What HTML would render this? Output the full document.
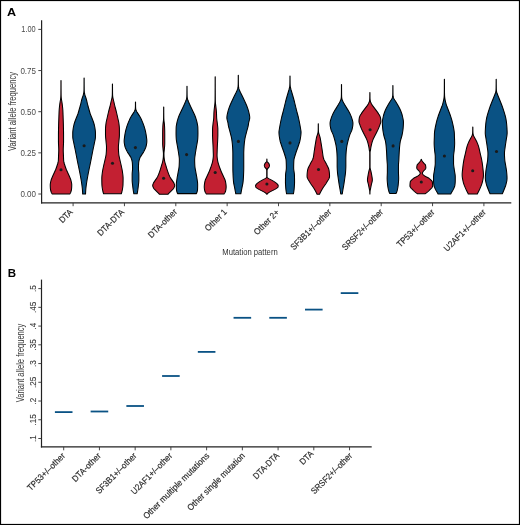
<!DOCTYPE html><html><head><meta charset="utf-8"><style>html,body{margin:0;padding:0;background:#fff;}svg{display:block;will-change:transform;}text{font-family:"Liberation Sans",sans-serif;}</style></head><body>
<svg width="520" height="525" viewBox="0 0 520 525">
<rect x="0" y="0" width="520" height="525" fill="#fff"/>
<rect x="0.5" y="0.5" width="519" height="524" fill="none" stroke="#000" stroke-width="1.2"/>
<text x="7.1" y="15.6" font-size="11.5" font-weight="bold" fill="#000" textLength="9.1" lengthAdjust="spacingAndGlyphs">A</text>
<line x1="41.6" y1="20.2" x2="41.6" y2="203.5" stroke="#222" stroke-width="1.2"/>
<line x1="41.0" y1="202.9" x2="511.3" y2="202.9" stroke="#222" stroke-width="1.2"/>
<line x1="38.300000000000004" y1="194.00" x2="41.6" y2="194.00" stroke="#333" stroke-width="0.9"/>
<text x="36.0" y="197.00" font-size="8.6" fill="#4a4a4a" text-anchor="end" textLength="15.6" lengthAdjust="spacingAndGlyphs">0.00</text>
<line x1="38.300000000000004" y1="152.85" x2="41.6" y2="152.85" stroke="#333" stroke-width="0.9"/>
<text x="36.0" y="155.85" font-size="8.6" fill="#4a4a4a" text-anchor="end" textLength="15.6" lengthAdjust="spacingAndGlyphs">0.25</text>
<line x1="38.300000000000004" y1="111.70" x2="41.6" y2="111.70" stroke="#333" stroke-width="0.9"/>
<text x="36.0" y="114.70" font-size="8.6" fill="#4a4a4a" text-anchor="end" textLength="15.6" lengthAdjust="spacingAndGlyphs">0.50</text>
<line x1="38.300000000000004" y1="70.55" x2="41.6" y2="70.55" stroke="#333" stroke-width="0.9"/>
<text x="36.0" y="73.55" font-size="8.6" fill="#4a4a4a" text-anchor="end" textLength="15.6" lengthAdjust="spacingAndGlyphs">0.75</text>
<line x1="38.300000000000004" y1="29.40" x2="41.6" y2="29.40" stroke="#333" stroke-width="0.9"/>
<text x="35.7" y="32.40" font-size="8.6" fill="#4a4a4a" text-anchor="end" textLength="14.4" lengthAdjust="spacingAndGlyphs">1.00</text>
<line x1="73.10" y1="202.9" x2="73.10" y2="206.20000000000002" stroke="#333" stroke-width="0.9"/>
<text transform="translate(73.40,212.60) rotate(-45)" font-size="8.8" fill="#2b2b2b" stroke="#2b2b2b" stroke-width="0.18" text-anchor="end" textLength="15.59" lengthAdjust="spacingAndGlyphs">DTA</text>
<line x1="124.45" y1="202.9" x2="124.45" y2="206.20000000000002" stroke="#333" stroke-width="0.9"/>
<text transform="translate(124.75,212.60) rotate(-45)" font-size="8.8" fill="#2b2b2b" stroke="#2b2b2b" stroke-width="0.18" text-anchor="end" textLength="33.88" lengthAdjust="spacingAndGlyphs">DTA-DTA</text>
<line x1="175.80" y1="202.9" x2="175.80" y2="206.20000000000002" stroke="#333" stroke-width="0.9"/>
<text transform="translate(177.55,212.45) rotate(-45)" font-size="8.8" fill="#2b2b2b" stroke="#2b2b2b" stroke-width="0.18" text-anchor="end" textLength="36.74" lengthAdjust="spacingAndGlyphs">DTA-other</text>
<line x1="227.15" y1="202.9" x2="227.15" y2="206.20000000000002" stroke="#333" stroke-width="0.9"/>
<text transform="translate(227.45,212.60) rotate(-45)" font-size="8.8" fill="#2b2b2b" stroke="#2b2b2b" stroke-width="0.18" text-anchor="end" textLength="27.00" lengthAdjust="spacingAndGlyphs">Other 1</text>
<line x1="278.50" y1="202.9" x2="278.50" y2="206.20000000000002" stroke="#333" stroke-width="0.9"/>
<text transform="translate(279.80,213.00) rotate(-45)" font-size="8.8" fill="#2b2b2b" stroke="#2b2b2b" stroke-width="0.18" text-anchor="end" textLength="31.73" lengthAdjust="spacingAndGlyphs">Other 2+</text>
<line x1="329.85" y1="202.9" x2="329.85" y2="206.20000000000002" stroke="#333" stroke-width="0.9"/>
<text transform="translate(331.85,212.60) rotate(-45)" font-size="8.8" fill="#2b2b2b" stroke="#2b2b2b" stroke-width="0.18" text-anchor="end" textLength="53.68" lengthAdjust="spacingAndGlyphs">SF3B1+/–other</text>
<line x1="381.20" y1="202.9" x2="381.20" y2="206.20000000000002" stroke="#333" stroke-width="0.9"/>
<text transform="translate(383.70,212.60) rotate(-45)" font-size="8.8" fill="#2b2b2b" stroke="#2b2b2b" stroke-width="0.18" text-anchor="end" textLength="54.03" lengthAdjust="spacingAndGlyphs">SRSF2+/–other</text>
<line x1="432.55" y1="202.9" x2="432.55" y2="206.20000000000002" stroke="#333" stroke-width="0.9"/>
<text transform="translate(435.05,212.90) rotate(-45)" font-size="8.8" fill="#2b2b2b" stroke="#2b2b2b" stroke-width="0.18" text-anchor="end" textLength="49.28" lengthAdjust="spacingAndGlyphs">TP53+/–other</text>
<line x1="483.90" y1="202.9" x2="483.90" y2="206.20000000000002" stroke="#333" stroke-width="0.9"/>
<text transform="translate(486.30,212.90) rotate(-45)" font-size="8.8" fill="#2b2b2b" stroke="#2b2b2b" stroke-width="0.18" text-anchor="end" textLength="55.13" lengthAdjust="spacingAndGlyphs">U2AF1+/–other</text>
<text x="222.3" y="255.2" font-size="8.8" fill="#333" textLength="55.4" lengthAdjust="spacingAndGlyphs">Mutation pattern</text>
<text transform="translate(15.9,111.4) rotate(-90)" font-size="10" fill="#3a3a3a" text-anchor="middle" textLength="79" lengthAdjust="spacingAndGlyphs">Variant allele frequency</text>
<path d="M61.05,80.50 L61.05,81.00 L61.05,81.50 L61.05,82.00 L61.05,82.50 L61.05,83.00 L61.05,83.50 L61.05,84.00 L61.05,84.50 L61.05,85.00 L61.06,85.50 L61.06,86.00 L61.06,86.50 L61.06,87.00 L61.06,87.50 L61.06,88.00 L61.07,88.50 L61.07,89.00 L61.07,89.50 L61.07,90.00 L61.08,90.50 L61.08,91.00 L61.09,91.50 L61.09,92.00 L61.09,92.50 L61.10,93.00 L61.10,93.50 L61.11,94.00 L61.11,94.50 L61.12,95.00 L61.13,95.50 L61.15,96.00 L61.17,96.50 L61.19,97.00 L61.23,97.50 L61.28,98.00 L61.34,98.50 L61.40,99.00 L61.48,99.50 L61.57,100.00 L61.65,100.50 L61.74,101.00 L61.83,101.50 L61.91,102.00 L61.99,102.50 L62.07,103.00 L62.14,103.50 L62.21,104.00 L62.27,104.50 L62.33,105.00 L62.39,105.50 L62.45,106.00 L62.50,106.50 L62.55,107.00 L62.61,107.50 L62.66,108.00 L62.71,108.50 L62.75,109.00 L62.79,109.50 L62.83,110.00 L62.86,110.50 L62.89,111.00 L62.91,111.50 L62.93,112.00 L62.96,112.50 L62.98,113.00 L63.00,113.50 L63.01,114.00 L63.03,114.50 L63.05,115.00 L63.07,115.50 L63.08,116.00 L63.10,116.50 L63.12,117.00 L63.13,117.50 L63.15,118.00 L63.17,118.50 L63.19,119.00 L63.21,119.50 L63.22,120.00 L63.24,120.50 L63.26,121.00 L63.28,121.50 L63.30,122.00 L63.31,122.50 L63.33,123.00 L63.35,123.50 L63.36,124.00 L63.38,124.50 L63.39,125.00 L63.40,125.50 L63.41,126.00 L63.42,126.50 L63.43,127.00 L63.44,127.50 L63.46,128.00 L63.47,128.50 L63.48,129.00 L63.49,129.50 L63.50,130.00 L63.50,130.50 L63.51,131.00 L63.52,131.50 L63.53,132.00 L63.53,132.50 L63.54,133.00 L63.54,133.50 L63.55,134.00 L63.55,134.50 L63.55,135.00 L63.55,135.50 L63.55,136.00 L63.55,136.50 L63.55,137.00 L63.55,137.50 L63.55,138.00 L63.55,138.50 L63.55,139.00 L63.55,139.50 L63.55,140.00 L63.55,140.50 L63.55,141.00 L63.55,141.50 L63.54,142.00 L63.54,142.50 L63.52,143.00 L63.51,143.50 L63.49,144.00 L63.46,144.50 L63.44,145.00 L63.42,145.50 L63.39,146.00 L63.37,146.50 L63.34,147.00 L63.32,147.50 L63.30,148.00 L63.28,148.50 L63.27,149.00 L63.26,149.50 L63.25,150.00 L63.25,150.50 L63.26,151.00 L63.27,151.50 L63.29,152.00 L63.31,152.50 L63.33,153.00 L63.36,153.50 L63.38,154.00 L63.41,154.50 L63.43,155.00 L63.45,155.50 L63.47,156.00 L63.48,156.50 L63.50,157.00 L63.51,157.50 L63.53,158.00 L63.55,158.50 L63.57,159.00 L63.59,159.50 L63.61,160.00 L63.65,160.50 L63.69,161.00 L63.76,161.50 L63.85,162.00 L63.96,162.50 L64.10,163.00 L64.24,163.50 L64.40,164.00 L64.56,164.50 L64.73,165.00 L64.89,165.50 L65.05,166.00 L65.21,166.50 L65.38,167.00 L65.55,167.50 L65.73,168.00 L65.92,168.50 L66.12,169.00 L66.31,169.50 L66.52,170.00 L66.74,170.50 L66.97,171.00 L67.19,171.50 L67.42,172.00 L67.64,172.50 L67.87,173.00 L68.10,173.50 L68.33,174.00 L68.56,174.50 L68.79,175.00 L69.02,175.50 L69.24,176.00 L69.45,176.50 L69.66,177.00 L69.87,177.50 L70.09,178.00 L70.30,178.50 L70.50,179.00 L70.68,179.50 L70.85,180.00 L70.99,180.50 L71.11,181.00 L71.23,181.50 L71.35,182.00 L71.45,182.50 L71.55,183.00 L71.63,183.50 L71.69,184.00 L71.73,184.50 L71.74,185.00 L71.74,185.50 L71.73,186.00 L71.71,186.50 L71.69,187.00 L71.66,187.50 L71.63,188.00 L71.59,188.50 L71.55,189.00 L71.49,189.50 L71.40,190.00 L71.29,190.50 L71.14,191.00 L70.98,191.50 L70.81,192.00 L70.63,192.50 L70.37,193.00 L70.08,193.50 L69.75,194.00 L52.25,194.00 L51.92,193.50 L51.63,193.00 L51.37,192.50 L51.19,192.00 L51.02,191.50 L50.86,191.00 L50.71,190.50 L50.60,190.00 L50.51,189.50 L50.45,189.00 L50.41,188.50 L50.37,188.00 L50.34,187.50 L50.31,187.00 L50.29,186.50 L50.27,186.00 L50.26,185.50 L50.26,185.00 L50.27,184.50 L50.31,184.00 L50.37,183.50 L50.45,183.00 L50.55,182.50 L50.65,182.00 L50.77,181.50 L50.89,181.00 L51.01,180.50 L51.15,180.00 L51.32,179.50 L51.50,179.00 L51.70,178.50 L51.91,178.00 L52.13,177.50 L52.34,177.00 L52.55,176.50 L52.76,176.00 L52.98,175.50 L53.21,175.00 L53.44,174.50 L53.67,174.00 L53.90,173.50 L54.13,173.00 L54.36,172.50 L54.58,172.00 L54.81,171.50 L55.03,171.00 L55.26,170.50 L55.48,170.00 L55.69,169.50 L55.88,169.00 L56.08,168.50 L56.27,168.00 L56.45,167.50 L56.62,167.00 L56.79,166.50 L56.95,166.00 L57.11,165.50 L57.27,165.00 L57.44,164.50 L57.60,164.00 L57.76,163.50 L57.90,163.00 L58.04,162.50 L58.15,162.00 L58.24,161.50 L58.31,161.00 L58.35,160.50 L58.39,160.00 L58.41,159.50 L58.43,159.00 L58.45,158.50 L58.47,158.00 L58.49,157.50 L58.50,157.00 L58.52,156.50 L58.53,156.00 L58.55,155.50 L58.57,155.00 L58.59,154.50 L58.62,154.00 L58.64,153.50 L58.67,153.00 L58.69,152.50 L58.71,152.00 L58.73,151.50 L58.74,151.00 L58.75,150.50 L58.75,150.00 L58.74,149.50 L58.73,149.00 L58.72,148.50 L58.70,148.00 L58.68,147.50 L58.66,147.00 L58.63,146.50 L58.61,146.00 L58.58,145.50 L58.56,145.00 L58.54,144.50 L58.51,144.00 L58.49,143.50 L58.48,143.00 L58.46,142.50 L58.46,142.00 L58.45,141.50 L58.45,141.00 L58.45,140.50 L58.45,140.00 L58.45,139.50 L58.45,139.00 L58.45,138.50 L58.45,138.00 L58.45,137.50 L58.45,137.00 L58.45,136.50 L58.45,136.00 L58.45,135.50 L58.45,135.00 L58.45,134.50 L58.45,134.00 L58.46,133.50 L58.46,133.00 L58.47,132.50 L58.47,132.00 L58.48,131.50 L58.49,131.00 L58.50,130.50 L58.50,130.00 L58.51,129.50 L58.52,129.00 L58.53,128.50 L58.54,128.00 L58.56,127.50 L58.57,127.00 L58.58,126.50 L58.59,126.00 L58.60,125.50 L58.61,125.00 L58.62,124.50 L58.64,124.00 L58.65,123.50 L58.67,123.00 L58.69,122.50 L58.70,122.00 L58.72,121.50 L58.74,121.00 L58.76,120.50 L58.78,120.00 L58.79,119.50 L58.81,119.00 L58.83,118.50 L58.85,118.00 L58.87,117.50 L58.88,117.00 L58.90,116.50 L58.92,116.00 L58.93,115.50 L58.95,115.00 L58.97,114.50 L58.99,114.00 L59.00,113.50 L59.02,113.00 L59.04,112.50 L59.07,112.00 L59.09,111.50 L59.11,111.00 L59.14,110.50 L59.17,110.00 L59.21,109.50 L59.25,109.00 L59.29,108.50 L59.34,108.00 L59.39,107.50 L59.45,107.00 L59.50,106.50 L59.55,106.00 L59.61,105.50 L59.67,105.00 L59.73,104.50 L59.79,104.00 L59.86,103.50 L59.93,103.00 L60.01,102.50 L60.09,102.00 L60.17,101.50 L60.26,101.00 L60.35,100.50 L60.43,100.00 L60.52,99.50 L60.60,99.00 L60.66,98.50 L60.72,98.00 L60.77,97.50 L60.81,97.00 L60.83,96.50 L60.85,96.00 L60.87,95.50 L60.88,95.00 L60.89,94.50 L60.89,94.00 L60.90,93.50 L60.90,93.00 L60.91,92.50 L60.91,92.00 L60.91,91.50 L60.92,91.00 L60.92,90.50 L60.93,90.00 L60.93,89.50 L60.93,89.00 L60.93,88.50 L60.94,88.00 L60.94,87.50 L60.94,87.00 L60.94,86.50 L60.94,86.00 L60.94,85.50 L60.95,85.00 L60.95,84.50 L60.95,84.00 L60.95,83.50 L60.95,83.00 L60.95,82.50 L60.95,82.00 L60.95,81.50 L60.95,81.00 L60.95,80.50Z" fill="#C32032" stroke="#000" stroke-width="1.05" stroke-linejoin="round"/>
<path d="M84.15,78.00 L84.15,78.50 L84.15,79.00 L84.15,79.50 L84.15,80.00 L84.15,80.50 L84.15,81.00 L84.15,81.50 L84.16,82.00 L84.16,82.50 L84.16,83.00 L84.16,83.50 L84.16,84.00 L84.17,84.50 L84.17,85.00 L84.17,85.50 L84.17,86.00 L84.18,86.50 L84.18,87.00 L84.19,87.50 L84.19,88.00 L84.20,88.50 L84.20,89.00 L84.21,89.50 L84.22,90.00 L84.23,90.50 L84.26,91.00 L84.28,91.50 L84.33,92.00 L84.39,92.50 L84.46,93.00 L84.56,93.50 L84.67,94.00 L84.80,94.50 L84.95,95.00 L85.10,95.50 L85.27,96.00 L85.43,96.50 L85.60,97.00 L85.77,97.50 L85.94,98.00 L86.10,98.50 L86.25,99.00 L86.40,99.50 L86.54,100.00 L86.67,100.50 L86.80,101.00 L86.92,101.50 L87.03,102.00 L87.14,102.50 L87.25,103.00 L87.36,103.50 L87.48,104.00 L87.60,104.50 L87.73,105.00 L87.87,105.50 L88.00,106.00 L88.14,106.50 L88.28,107.00 L88.42,107.50 L88.56,108.00 L88.71,108.50 L88.85,109.00 L88.99,109.50 L89.13,110.00 L89.27,110.50 L89.41,111.00 L89.55,111.50 L89.69,112.00 L89.84,112.50 L90.00,113.00 L90.16,113.50 L90.32,114.00 L90.50,114.50 L90.69,115.00 L90.89,115.50 L91.09,116.00 L91.30,116.50 L91.51,117.00 L91.71,117.50 L91.92,118.00 L92.11,118.50 L92.30,119.00 L92.50,119.50 L92.69,120.00 L92.88,120.50 L93.07,121.00 L93.26,121.50 L93.43,122.00 L93.60,122.50 L93.76,123.00 L93.90,123.50 L94.04,124.00 L94.18,124.50 L94.31,125.00 L94.43,125.50 L94.55,126.00 L94.66,126.50 L94.76,127.00 L94.85,127.50 L94.93,128.00 L95.01,128.50 L95.08,129.00 L95.15,129.50 L95.22,130.00 L95.28,130.50 L95.34,131.00 L95.38,131.50 L95.42,132.00 L95.44,132.50 L95.45,133.00 L95.45,133.50 L95.45,134.00 L95.45,134.50 L95.45,135.00 L95.45,135.50 L95.45,136.00 L95.45,136.50 L95.44,137.00 L95.41,137.50 L95.37,138.00 L95.31,138.50 L95.23,139.00 L95.15,139.50 L95.05,140.00 L94.95,140.50 L94.84,141.00 L94.73,141.50 L94.62,142.00 L94.51,142.50 L94.41,143.00 L94.31,143.50 L94.22,144.00 L94.12,144.50 L94.01,145.00 L93.91,145.50 L93.80,146.00 L93.70,146.50 L93.59,147.00 L93.48,147.50 L93.37,148.00 L93.26,148.50 L93.16,149.00 L93.05,149.50 L92.95,150.00 L92.85,150.50 L92.75,151.00 L92.65,151.50 L92.56,152.00 L92.46,152.50 L92.36,153.00 L92.27,153.50 L92.17,154.00 L92.07,154.50 L91.98,155.00 L91.88,155.50 L91.79,156.00 L91.69,156.50 L91.59,157.00 L91.49,157.50 L91.40,158.00 L91.30,158.50 L91.20,159.00 L91.10,159.50 L91.01,160.00 L90.91,160.50 L90.81,161.00 L90.71,161.50 L90.61,162.00 L90.51,162.50 L90.41,163.00 L90.31,163.50 L90.21,164.00 L90.10,164.50 L90.00,165.00 L89.89,165.50 L89.79,166.00 L89.68,166.50 L89.57,167.00 L89.47,167.50 L89.36,168.00 L89.26,168.50 L89.15,169.00 L89.05,169.50 L88.95,170.00 L88.85,170.50 L88.75,171.00 L88.65,171.50 L88.55,172.00 L88.45,172.50 L88.35,173.00 L88.25,173.50 L88.16,174.00 L88.06,174.50 L87.96,175.00 L87.87,175.50 L87.78,176.00 L87.69,176.50 L87.60,177.00 L87.51,177.50 L87.42,178.00 L87.33,178.50 L87.24,179.00 L87.15,179.50 L87.07,180.00 L86.98,180.50 L86.90,181.00 L86.82,181.50 L86.74,182.00 L86.67,182.50 L86.59,183.00 L86.52,183.50 L86.45,184.00 L86.38,184.50 L86.31,185.00 L86.24,185.50 L86.18,186.00 L86.11,186.50 L86.05,187.00 L85.99,187.50 L85.93,188.00 L85.88,188.50 L85.83,189.00 L85.79,189.50 L85.75,190.00 L85.72,190.50 L85.69,191.00 L85.66,191.50 L85.63,192.00 L85.60,192.50 L85.58,193.00 L85.56,193.50 L85.55,194.00 L82.65,194.00 L82.64,193.50 L82.62,193.00 L82.60,192.50 L82.57,192.00 L82.54,191.50 L82.51,191.00 L82.48,190.50 L82.45,190.00 L82.41,189.50 L82.37,189.00 L82.32,188.50 L82.27,188.00 L82.21,187.50 L82.15,187.00 L82.09,186.50 L82.02,186.00 L81.96,185.50 L81.89,185.00 L81.82,184.50 L81.75,184.00 L81.68,183.50 L81.61,183.00 L81.53,182.50 L81.46,182.00 L81.38,181.50 L81.30,181.00 L81.22,180.50 L81.13,180.00 L81.05,179.50 L80.96,179.00 L80.87,178.50 L80.78,178.00 L80.69,177.50 L80.60,177.00 L80.51,176.50 L80.42,176.00 L80.33,175.50 L80.24,175.00 L80.14,174.50 L80.04,174.00 L79.95,173.50 L79.85,173.00 L79.75,172.50 L79.65,172.00 L79.55,171.50 L79.45,171.00 L79.35,170.50 L79.25,170.00 L79.15,169.50 L79.05,169.00 L78.94,168.50 L78.84,168.00 L78.73,167.50 L78.63,167.00 L78.52,166.50 L78.41,166.00 L78.31,165.50 L78.20,165.00 L78.10,164.50 L77.99,164.00 L77.89,163.50 L77.79,163.00 L77.69,162.50 L77.59,162.00 L77.49,161.50 L77.39,161.00 L77.29,160.50 L77.19,160.00 L77.10,159.50 L77.00,159.00 L76.90,158.50 L76.80,158.00 L76.71,157.50 L76.61,157.00 L76.51,156.50 L76.41,156.00 L76.32,155.50 L76.22,155.00 L76.13,154.50 L76.03,154.00 L75.93,153.50 L75.84,153.00 L75.74,152.50 L75.64,152.00 L75.55,151.50 L75.45,151.00 L75.35,150.50 L75.25,150.00 L75.15,149.50 L75.04,149.00 L74.94,148.50 L74.83,148.00 L74.72,147.50 L74.61,147.00 L74.50,146.50 L74.40,146.00 L74.29,145.50 L74.19,145.00 L74.08,144.50 L73.98,144.00 L73.89,143.50 L73.79,143.00 L73.69,142.50 L73.58,142.00 L73.47,141.50 L73.36,141.00 L73.25,140.50 L73.15,140.00 L73.05,139.50 L72.97,139.00 L72.89,138.50 L72.83,138.00 L72.79,137.50 L72.76,137.00 L72.75,136.50 L72.75,136.00 L72.75,135.50 L72.75,135.00 L72.75,134.50 L72.75,134.00 L72.75,133.50 L72.75,133.00 L72.76,132.50 L72.78,132.00 L72.82,131.50 L72.86,131.00 L72.92,130.50 L72.98,130.00 L73.05,129.50 L73.12,129.00 L73.19,128.50 L73.27,128.00 L73.35,127.50 L73.44,127.00 L73.54,126.50 L73.65,126.00 L73.77,125.50 L73.89,125.00 L74.02,124.50 L74.16,124.00 L74.30,123.50 L74.44,123.00 L74.60,122.50 L74.77,122.00 L74.94,121.50 L75.13,121.00 L75.32,120.50 L75.51,120.00 L75.70,119.50 L75.90,119.00 L76.09,118.50 L76.28,118.00 L76.49,117.50 L76.69,117.00 L76.90,116.50 L77.11,116.00 L77.31,115.50 L77.51,115.00 L77.70,114.50 L77.88,114.00 L78.04,113.50 L78.20,113.00 L78.36,112.50 L78.51,112.00 L78.65,111.50 L78.79,111.00 L78.93,110.50 L79.07,110.00 L79.21,109.50 L79.35,109.00 L79.49,108.50 L79.64,108.00 L79.78,107.50 L79.92,107.00 L80.06,106.50 L80.20,106.00 L80.33,105.50 L80.47,105.00 L80.60,104.50 L80.72,104.00 L80.84,103.50 L80.95,103.00 L81.06,102.50 L81.17,102.00 L81.28,101.50 L81.40,101.00 L81.53,100.50 L81.66,100.00 L81.80,99.50 L81.95,99.00 L82.10,98.50 L82.26,98.00 L82.43,97.50 L82.60,97.00 L82.77,96.50 L82.93,96.00 L83.10,95.50 L83.25,95.00 L83.40,94.50 L83.53,94.00 L83.64,93.50 L83.74,93.00 L83.81,92.50 L83.87,92.00 L83.92,91.50 L83.94,91.00 L83.97,90.50 L83.98,90.00 L83.99,89.50 L84.00,89.00 L84.00,88.50 L84.01,88.00 L84.01,87.50 L84.02,87.00 L84.02,86.50 L84.03,86.00 L84.03,85.50 L84.03,85.00 L84.03,84.50 L84.04,84.00 L84.04,83.50 L84.04,83.00 L84.04,82.50 L84.04,82.00 L84.05,81.50 L84.05,81.00 L84.05,80.50 L84.05,80.00 L84.05,79.50 L84.05,79.00 L84.05,78.50 L84.05,78.00Z" fill="#0A5284" stroke="#000" stroke-width="1.05" stroke-linejoin="round"/>
<path d="M112.50,84.00 L112.50,84.50 L112.50,85.00 L112.50,85.50 L112.50,86.00 L112.51,86.50 L112.51,87.00 L112.51,87.50 L112.51,88.00 L112.51,88.50 L112.52,89.00 L112.52,89.50 L112.52,90.00 L112.53,90.50 L112.53,91.00 L112.54,91.50 L112.54,92.00 L112.55,92.50 L112.56,93.00 L112.57,93.50 L112.58,94.00 L112.59,94.50 L112.61,95.00 L112.64,95.50 L112.68,96.00 L112.73,96.50 L112.80,97.00 L112.88,97.50 L112.97,98.00 L113.08,98.50 L113.19,99.00 L113.31,99.50 L113.43,100.00 L113.55,100.50 L113.67,101.00 L113.79,101.50 L113.91,102.00 L114.02,102.50 L114.14,103.00 L114.25,103.50 L114.36,104.00 L114.48,104.50 L114.60,105.00 L114.71,105.50 L114.83,106.00 L114.95,106.50 L115.08,107.00 L115.21,107.50 L115.34,108.00 L115.47,108.50 L115.61,109.00 L115.75,109.50 L115.88,110.00 L116.01,110.50 L116.15,111.00 L116.27,111.50 L116.40,112.00 L116.52,112.50 L116.64,113.00 L116.76,113.50 L116.87,114.00 L116.99,114.50 L117.10,115.00 L117.21,115.50 L117.33,116.00 L117.44,116.50 L117.55,117.00 L117.66,117.50 L117.77,118.00 L117.88,118.50 L118.00,119.00 L118.12,119.50 L118.24,120.00 L118.35,120.50 L118.47,121.00 L118.57,121.50 L118.67,122.00 L118.76,122.50 L118.84,123.00 L118.91,123.50 L118.97,124.00 L119.04,124.50 L119.10,125.00 L119.15,125.50 L119.21,126.00 L119.26,126.50 L119.30,127.00 L119.34,127.50 L119.37,128.00 L119.39,128.50 L119.40,129.00 L119.40,129.50 L119.40,130.00 L119.40,130.50 L119.40,131.00 L119.40,131.50 L119.40,132.00 L119.40,132.50 L119.40,133.00 L119.40,133.50 L119.40,134.00 L119.40,134.50 L119.40,135.00 L119.39,135.50 L119.37,136.00 L119.34,136.50 L119.31,137.00 L119.27,137.50 L119.22,138.00 L119.17,138.50 L119.12,139.00 L119.06,139.50 L119.01,140.00 L118.96,140.50 L118.92,141.00 L118.87,141.50 L118.83,142.00 L118.78,142.50 L118.72,143.00 L118.67,143.50 L118.62,144.00 L118.57,144.50 L118.52,145.00 L118.48,145.50 L118.45,146.00 L118.42,146.50 L118.41,147.00 L118.40,147.50 L118.41,148.00 L118.42,148.50 L118.43,149.00 L118.45,149.50 L118.47,150.00 L118.49,150.50 L118.52,151.00 L118.55,151.50 L118.58,152.00 L118.62,152.50 L118.66,153.00 L118.70,153.50 L118.74,154.00 L118.80,154.50 L118.88,155.00 L118.96,155.50 L119.06,156.00 L119.16,156.50 L119.27,157.00 L119.38,157.50 L119.49,158.00 L119.61,158.50 L119.72,159.00 L119.84,159.50 L119.94,160.00 L120.05,160.50 L120.17,161.00 L120.28,161.50 L120.40,162.00 L120.52,162.50 L120.64,163.00 L120.75,163.50 L120.87,164.00 L120.99,164.50 L121.10,165.00 L121.21,165.50 L121.32,166.00 L121.43,166.50 L121.54,167.00 L121.64,167.50 L121.75,168.00 L121.86,168.50 L121.96,169.00 L122.06,169.50 L122.16,170.00 L122.25,170.50 L122.33,171.00 L122.41,171.50 L122.48,172.00 L122.55,172.50 L122.62,173.00 L122.68,173.50 L122.75,174.00 L122.81,174.50 L122.87,175.00 L122.93,175.50 L122.98,176.00 L123.02,176.50 L123.05,177.00 L123.08,177.50 L123.09,178.00 L123.10,178.50 L123.10,179.00 L123.09,179.50 L123.09,180.00 L123.08,180.50 L123.08,181.00 L123.07,181.50 L123.06,182.00 L123.05,182.50 L123.04,183.00 L123.03,183.50 L123.01,184.00 L123.00,184.50 L122.97,185.00 L122.94,185.50 L122.90,186.00 L122.84,186.50 L122.78,187.00 L122.71,187.50 L122.64,188.00 L122.56,188.50 L122.48,189.00 L122.40,189.50 L122.31,190.00 L122.20,190.50 L122.09,191.00 L121.97,191.50 L121.84,192.00 L121.70,192.50 L121.55,193.00 L121.39,193.50 L121.30,193.80 L103.60,193.80 L103.51,193.50 L103.35,193.00 L103.20,192.50 L103.06,192.00 L102.93,191.50 L102.81,191.00 L102.70,190.50 L102.59,190.00 L102.50,189.50 L102.42,189.00 L102.34,188.50 L102.26,188.00 L102.19,187.50 L102.12,187.00 L102.06,186.50 L102.00,186.00 L101.96,185.50 L101.93,185.00 L101.90,184.50 L101.89,184.00 L101.87,183.50 L101.86,183.00 L101.85,182.50 L101.84,182.00 L101.83,181.50 L101.82,181.00 L101.82,180.50 L101.81,180.00 L101.81,179.50 L101.80,179.00 L101.80,178.50 L101.81,178.00 L101.82,177.50 L101.85,177.00 L101.88,176.50 L101.92,176.00 L101.97,175.50 L102.03,175.00 L102.09,174.50 L102.15,174.00 L102.22,173.50 L102.28,173.00 L102.35,172.50 L102.42,172.00 L102.49,171.50 L102.57,171.00 L102.65,170.50 L102.74,170.00 L102.84,169.50 L102.94,169.00 L103.04,168.50 L103.15,168.00 L103.26,167.50 L103.36,167.00 L103.47,166.50 L103.58,166.00 L103.69,165.50 L103.80,165.00 L103.91,164.50 L104.03,164.00 L104.15,163.50 L104.26,163.00 L104.38,162.50 L104.50,162.00 L104.62,161.50 L104.73,161.00 L104.85,160.50 L104.96,160.00 L105.06,159.50 L105.18,159.00 L105.29,158.50 L105.41,158.00 L105.52,157.50 L105.63,157.00 L105.74,156.50 L105.84,156.00 L105.94,155.50 L106.02,155.00 L106.10,154.50 L106.16,154.00 L106.20,153.50 L106.24,153.00 L106.28,152.50 L106.32,152.00 L106.35,151.50 L106.38,151.00 L106.41,150.50 L106.43,150.00 L106.45,149.50 L106.47,149.00 L106.48,148.50 L106.49,148.00 L106.50,147.50 L106.49,147.00 L106.48,146.50 L106.45,146.00 L106.42,145.50 L106.38,145.00 L106.33,144.50 L106.28,144.00 L106.23,143.50 L106.18,143.00 L106.12,142.50 L106.07,142.00 L106.03,141.50 L105.98,141.00 L105.94,140.50 L105.89,140.00 L105.84,139.50 L105.78,139.00 L105.73,138.50 L105.68,138.00 L105.63,137.50 L105.59,137.00 L105.56,136.50 L105.53,136.00 L105.51,135.50 L105.50,135.00 L105.50,134.50 L105.50,134.00 L105.50,133.50 L105.50,133.00 L105.50,132.50 L105.50,132.00 L105.50,131.50 L105.50,131.00 L105.50,130.50 L105.50,130.00 L105.50,129.50 L105.50,129.00 L105.51,128.50 L105.53,128.00 L105.56,127.50 L105.60,127.00 L105.64,126.50 L105.69,126.00 L105.75,125.50 L105.80,125.00 L105.86,124.50 L105.93,124.00 L105.99,123.50 L106.06,123.00 L106.14,122.50 L106.23,122.00 L106.33,121.50 L106.43,121.00 L106.55,120.50 L106.66,120.00 L106.78,119.50 L106.90,119.00 L107.02,118.50 L107.13,118.00 L107.24,117.50 L107.35,117.00 L107.46,116.50 L107.57,116.00 L107.69,115.50 L107.80,115.00 L107.91,114.50 L108.03,114.00 L108.14,113.50 L108.26,113.00 L108.38,112.50 L108.50,112.00 L108.63,111.50 L108.75,111.00 L108.89,110.50 L109.02,110.00 L109.15,109.50 L109.29,109.00 L109.43,108.50 L109.56,108.00 L109.69,107.50 L109.82,107.00 L109.95,106.50 L110.07,106.00 L110.19,105.50 L110.30,105.00 L110.42,104.50 L110.54,104.00 L110.65,103.50 L110.76,103.00 L110.88,102.50 L110.99,102.00 L111.11,101.50 L111.23,101.00 L111.35,100.50 L111.47,100.00 L111.59,99.50 L111.71,99.00 L111.82,98.50 L111.93,98.00 L112.02,97.50 L112.10,97.00 L112.17,96.50 L112.22,96.00 L112.26,95.50 L112.29,95.00 L112.31,94.50 L112.32,94.00 L112.33,93.50 L112.34,93.00 L112.35,92.50 L112.36,92.00 L112.36,91.50 L112.37,91.00 L112.37,90.50 L112.38,90.00 L112.38,89.50 L112.38,89.00 L112.39,88.50 L112.39,88.00 L112.39,87.50 L112.39,87.00 L112.39,86.50 L112.40,86.00 L112.40,85.50 L112.40,85.00 L112.40,84.50 L112.40,84.00Z" fill="#C32032" stroke="#000" stroke-width="1.05" stroke-linejoin="round"/>
<path d="M135.55,102.10 L135.55,102.60 L135.55,103.10 L135.56,103.60 L135.56,104.10 L135.56,104.60 L135.57,105.10 L135.57,105.60 L135.58,106.10 L135.59,106.60 L135.61,107.10 L135.63,107.60 L135.66,108.10 L135.71,108.60 L135.79,109.10 L135.90,109.60 L136.04,110.10 L136.23,110.60 L136.46,111.10 L136.72,111.60 L137.01,112.10 L137.32,112.60 L137.64,113.10 L137.97,113.60 L138.29,114.10 L138.62,114.60 L138.94,115.10 L139.25,115.60 L139.55,116.10 L139.84,116.60 L140.12,117.10 L140.40,117.60 L140.66,118.10 L140.92,118.60 L141.17,119.10 L141.41,119.60 L141.65,120.10 L141.88,120.60 L142.10,121.10 L142.32,121.60 L142.53,122.10 L142.73,122.60 L142.93,123.10 L143.13,123.60 L143.32,124.10 L143.50,124.60 L143.68,125.10 L143.85,125.60 L144.02,126.10 L144.18,126.60 L144.33,127.10 L144.49,127.60 L144.63,128.10 L144.78,128.60 L144.92,129.10 L145.05,129.60 L145.18,130.10 L145.30,130.60 L145.42,131.10 L145.53,131.60 L145.63,132.10 L145.73,132.60 L145.83,133.10 L145.92,133.60 L146.01,134.10 L146.10,134.60 L146.18,135.10 L146.25,135.60 L146.33,136.10 L146.40,136.60 L146.46,137.10 L146.53,137.60 L146.59,138.10 L146.66,138.60 L146.72,139.10 L146.77,139.60 L146.81,140.10 L146.83,140.60 L146.84,141.10 L146.83,141.60 L146.80,142.10 L146.75,142.60 L146.69,143.10 L146.62,143.60 L146.54,144.10 L146.45,144.60 L146.36,145.10 L146.26,145.60 L146.15,146.10 L146.02,146.60 L145.87,147.10 L145.70,147.60 L145.51,148.10 L145.30,148.60 L145.08,149.10 L144.84,149.60 L144.60,150.10 L144.35,150.60 L144.09,151.10 L143.83,151.60 L143.54,152.10 L143.22,152.60 L142.87,153.10 L142.52,153.60 L142.17,154.10 L141.84,154.60 L141.53,155.10 L141.22,155.60 L140.91,156.10 L140.60,156.60 L140.31,157.10 L140.06,157.60 L139.84,158.10 L139.66,158.60 L139.49,159.10 L139.33,159.60 L139.18,160.10 L139.05,160.60 L138.93,161.10 L138.83,161.60 L138.74,162.10 L138.68,162.60 L138.64,163.10 L138.61,163.60 L138.58,164.10 L138.56,164.60 L138.53,165.10 L138.51,165.60 L138.49,166.10 L138.48,166.60 L138.47,167.10 L138.46,167.60 L138.46,168.10 L138.46,168.60 L138.46,169.10 L138.49,169.60 L138.52,170.10 L138.57,170.60 L138.61,171.10 L138.67,171.60 L138.72,172.10 L138.76,172.60 L138.80,173.10 L138.83,173.60 L138.84,174.10 L138.85,174.60 L138.85,175.10 L138.85,175.60 L138.85,176.10 L138.85,176.60 L138.85,177.10 L138.85,177.60 L138.85,178.10 L138.85,178.60 L138.85,179.10 L138.85,179.60 L138.85,180.10 L138.84,180.60 L138.81,181.10 L138.78,181.60 L138.74,182.10 L138.70,182.60 L138.65,183.10 L138.59,183.60 L138.53,184.10 L138.47,184.60 L138.42,185.10 L138.36,185.60 L138.31,186.10 L138.25,186.60 L138.19,187.10 L138.13,187.60 L138.06,188.10 L137.99,188.60 L137.92,189.10 L137.85,189.60 L137.78,190.10 L137.70,190.60 L137.62,191.10 L137.54,191.60 L137.46,192.10 L137.37,192.60 L137.28,193.10 L137.19,193.60 L137.15,193.80 L133.85,193.80 L133.81,193.60 L133.72,193.10 L133.63,192.60 L133.54,192.10 L133.46,191.60 L133.38,191.10 L133.30,190.60 L133.22,190.10 L133.15,189.60 L133.08,189.10 L133.01,188.60 L132.94,188.10 L132.87,187.60 L132.81,187.10 L132.75,186.60 L132.69,186.10 L132.64,185.60 L132.58,185.10 L132.53,184.60 L132.47,184.10 L132.41,183.60 L132.35,183.10 L132.30,182.60 L132.26,182.10 L132.22,181.60 L132.19,181.10 L132.16,180.60 L132.15,180.10 L132.15,179.60 L132.15,179.10 L132.15,178.60 L132.15,178.10 L132.15,177.60 L132.15,177.10 L132.15,176.60 L132.15,176.10 L132.15,175.60 L132.15,175.10 L132.15,174.60 L132.16,174.10 L132.17,173.60 L132.20,173.10 L132.24,172.60 L132.28,172.10 L132.33,171.60 L132.39,171.10 L132.43,170.60 L132.48,170.10 L132.51,169.60 L132.54,169.10 L132.54,168.60 L132.54,168.10 L132.54,167.60 L132.53,167.10 L132.52,166.60 L132.51,166.10 L132.49,165.60 L132.47,165.10 L132.44,164.60 L132.42,164.10 L132.39,163.60 L132.36,163.10 L132.32,162.60 L132.26,162.10 L132.17,161.60 L132.07,161.10 L131.95,160.60 L131.82,160.10 L131.67,159.60 L131.51,159.10 L131.34,158.60 L131.16,158.10 L130.94,157.60 L130.69,157.10 L130.40,156.60 L130.09,156.10 L129.78,155.60 L129.47,155.10 L129.16,154.60 L128.83,154.10 L128.48,153.60 L128.13,153.10 L127.78,152.60 L127.46,152.10 L127.17,151.60 L126.91,151.10 L126.65,150.60 L126.40,150.10 L126.16,149.60 L125.92,149.10 L125.70,148.60 L125.49,148.10 L125.30,147.60 L125.13,147.10 L124.98,146.60 L124.85,146.10 L124.74,145.60 L124.64,145.10 L124.55,144.60 L124.46,144.10 L124.38,143.60 L124.31,143.10 L124.25,142.60 L124.20,142.10 L124.17,141.60 L124.16,141.10 L124.17,140.60 L124.19,140.10 L124.23,139.60 L124.28,139.10 L124.34,138.60 L124.41,138.10 L124.47,137.60 L124.54,137.10 L124.60,136.60 L124.67,136.10 L124.75,135.60 L124.82,135.10 L124.90,134.60 L124.99,134.10 L125.08,133.60 L125.17,133.10 L125.27,132.60 L125.37,132.10 L125.47,131.60 L125.58,131.10 L125.70,130.60 L125.82,130.10 L125.95,129.60 L126.08,129.10 L126.22,128.60 L126.37,128.10 L126.51,127.60 L126.67,127.10 L126.82,126.60 L126.98,126.10 L127.15,125.60 L127.32,125.10 L127.50,124.60 L127.68,124.10 L127.87,123.60 L128.07,123.10 L128.27,122.60 L128.47,122.10 L128.68,121.60 L128.90,121.10 L129.12,120.60 L129.35,120.10 L129.59,119.60 L129.83,119.10 L130.08,118.60 L130.34,118.10 L130.60,117.60 L130.88,117.10 L131.16,116.60 L131.45,116.10 L131.75,115.60 L132.06,115.10 L132.38,114.60 L132.71,114.10 L133.03,113.60 L133.36,113.10 L133.68,112.60 L133.99,112.10 L134.28,111.60 L134.54,111.10 L134.77,110.60 L134.96,110.10 L135.10,109.60 L135.21,109.10 L135.29,108.60 L135.34,108.10 L135.37,107.60 L135.39,107.10 L135.41,106.60 L135.42,106.10 L135.43,105.60 L135.43,105.10 L135.44,104.60 L135.44,104.10 L135.44,103.60 L135.45,103.10 L135.45,102.60 L135.45,102.10Z" fill="#0A5284" stroke="#000" stroke-width="1.05" stroke-linejoin="round"/>
<path d="M163.75,107.10 L163.75,107.60 L163.75,108.10 L163.75,108.60 L163.75,109.10 L163.75,109.60 L163.75,110.10 L163.76,110.60 L163.76,111.10 L163.76,111.60 L163.76,112.10 L163.76,112.60 L163.77,113.10 L163.77,113.60 L163.77,114.10 L163.78,114.60 L163.78,115.10 L163.78,115.60 L163.79,116.10 L163.80,116.60 L163.80,117.10 L163.81,117.60 L163.82,118.10 L163.83,118.60 L163.85,119.10 L163.88,119.60 L163.92,120.10 L163.96,120.60 L164.02,121.10 L164.08,121.60 L164.15,122.10 L164.22,122.60 L164.29,123.10 L164.35,123.60 L164.40,124.10 L164.44,124.60 L164.48,125.10 L164.51,125.60 L164.54,126.10 L164.56,126.60 L164.58,127.10 L164.61,127.60 L164.63,128.10 L164.65,128.60 L164.66,129.10 L164.68,129.60 L164.69,130.10 L164.71,130.60 L164.72,131.10 L164.73,131.60 L164.73,132.10 L164.74,132.60 L164.74,133.10 L164.75,133.60 L164.75,134.10 L164.75,134.60 L164.75,135.10 L164.75,135.60 L164.75,136.10 L164.75,136.60 L164.75,137.10 L164.75,137.60 L164.75,138.10 L164.75,138.60 L164.75,139.10 L164.75,139.60 L164.75,140.10 L164.75,140.60 L164.75,141.10 L164.75,141.60 L164.75,142.10 L164.75,142.60 L164.75,143.10 L164.75,143.60 L164.74,144.10 L164.72,144.60 L164.69,145.10 L164.65,145.60 L164.62,146.10 L164.57,146.60 L164.53,147.10 L164.48,147.60 L164.44,148.10 L164.39,148.60 L164.35,149.10 L164.30,149.60 L164.25,150.10 L164.20,150.60 L164.14,151.10 L164.09,151.60 L164.04,152.10 L164.00,152.60 L163.97,153.10 L163.96,153.60 L163.96,154.10 L163.96,154.60 L163.98,155.10 L163.99,155.60 L164.01,156.10 L164.03,156.60 L164.06,157.10 L164.10,157.60 L164.16,158.10 L164.22,158.60 L164.30,159.10 L164.37,159.60 L164.45,160.10 L164.53,160.60 L164.63,161.10 L164.73,161.60 L164.85,162.10 L164.98,162.60 L165.13,163.10 L165.28,163.60 L165.44,164.10 L165.60,164.60 L165.76,165.10 L165.91,165.60 L166.06,166.10 L166.20,166.60 L166.35,167.10 L166.49,167.60 L166.64,168.10 L166.80,168.60 L166.95,169.10 L167.11,169.60 L167.28,170.10 L167.44,170.60 L167.61,171.10 L167.78,171.60 L167.96,172.10 L168.14,172.60 L168.33,173.10 L168.51,173.60 L168.70,174.10 L168.89,174.60 L169.09,175.10 L169.30,175.60 L169.52,176.10 L169.76,176.60 L170.03,177.10 L170.33,177.60 L170.66,178.10 L170.99,178.60 L171.34,179.10 L171.68,179.60 L172.02,180.10 L172.35,180.60 L172.69,181.10 L173.04,181.60 L173.37,182.10 L173.68,182.60 L173.94,183.10 L174.16,183.60 L174.37,184.10 L174.55,184.60 L174.67,185.10 L174.70,185.60 L174.63,186.10 L174.49,186.60 L174.29,187.10 L174.06,187.60 L173.79,188.10 L173.43,188.60 L173.00,189.10 L172.52,189.60 L172.03,190.10 L171.54,190.60 L171.06,191.10 L170.56,191.60 L170.04,192.10 L169.53,192.60 L169.01,193.10 L168.54,193.60 L168.13,194.10 L168.05,194.20 L159.35,194.20 L159.27,194.10 L158.86,193.60 L158.39,193.10 L157.87,192.60 L157.36,192.10 L156.84,191.60 L156.34,191.10 L155.86,190.60 L155.37,190.10 L154.88,189.60 L154.40,189.10 L153.97,188.60 L153.61,188.10 L153.34,187.60 L153.11,187.10 L152.91,186.60 L152.77,186.10 L152.70,185.60 L152.73,185.10 L152.85,184.60 L153.03,184.10 L153.24,183.60 L153.46,183.10 L153.72,182.60 L154.03,182.10 L154.36,181.60 L154.71,181.10 L155.05,180.60 L155.38,180.10 L155.72,179.60 L156.06,179.10 L156.41,178.60 L156.74,178.10 L157.07,177.60 L157.37,177.10 L157.64,176.60 L157.88,176.10 L158.10,175.60 L158.31,175.10 L158.51,174.60 L158.70,174.10 L158.89,173.60 L159.07,173.10 L159.26,172.60 L159.44,172.10 L159.62,171.60 L159.79,171.10 L159.96,170.60 L160.12,170.10 L160.29,169.60 L160.45,169.10 L160.60,168.60 L160.76,168.10 L160.91,167.60 L161.05,167.10 L161.20,166.60 L161.34,166.10 L161.49,165.60 L161.64,165.10 L161.80,164.60 L161.96,164.10 L162.12,163.60 L162.27,163.10 L162.42,162.60 L162.55,162.10 L162.67,161.60 L162.77,161.10 L162.87,160.60 L162.95,160.10 L163.03,159.60 L163.10,159.10 L163.18,158.60 L163.24,158.10 L163.30,157.60 L163.34,157.10 L163.37,156.60 L163.39,156.10 L163.41,155.60 L163.42,155.10 L163.44,154.60 L163.44,154.10 L163.44,153.60 L163.43,153.10 L163.40,152.60 L163.36,152.10 L163.31,151.60 L163.26,151.10 L163.20,150.60 L163.15,150.10 L163.10,149.60 L163.05,149.10 L163.01,148.60 L162.96,148.10 L162.92,147.60 L162.87,147.10 L162.83,146.60 L162.78,146.10 L162.75,145.60 L162.71,145.10 L162.68,144.60 L162.66,144.10 L162.65,143.60 L162.65,143.10 L162.65,142.60 L162.65,142.10 L162.65,141.60 L162.65,141.10 L162.65,140.60 L162.65,140.10 L162.65,139.60 L162.65,139.10 L162.65,138.60 L162.65,138.10 L162.65,137.60 L162.65,137.10 L162.65,136.60 L162.65,136.10 L162.65,135.60 L162.65,135.10 L162.65,134.60 L162.65,134.10 L162.65,133.60 L162.66,133.10 L162.66,132.60 L162.67,132.10 L162.67,131.60 L162.68,131.10 L162.69,130.60 L162.71,130.10 L162.72,129.60 L162.74,129.10 L162.75,128.60 L162.77,128.10 L162.79,127.60 L162.82,127.10 L162.84,126.60 L162.86,126.10 L162.89,125.60 L162.92,125.10 L162.96,124.60 L163.00,124.10 L163.05,123.60 L163.11,123.10 L163.18,122.60 L163.25,122.10 L163.32,121.60 L163.38,121.10 L163.44,120.60 L163.48,120.10 L163.52,119.60 L163.55,119.10 L163.57,118.60 L163.58,118.10 L163.59,117.60 L163.60,117.10 L163.60,116.60 L163.61,116.10 L163.62,115.60 L163.62,115.10 L163.62,114.60 L163.63,114.10 L163.63,113.60 L163.63,113.10 L163.64,112.60 L163.64,112.10 L163.64,111.60 L163.64,111.10 L163.64,110.60 L163.65,110.10 L163.65,109.60 L163.65,109.10 L163.65,108.60 L163.65,108.10 L163.65,107.60 L163.65,107.10Z" fill="#C32032" stroke="#000" stroke-width="1.05" stroke-linejoin="round"/>
<path d="M187.05,86.30 L187.05,86.80 L187.05,87.30 L187.05,87.80 L187.05,88.30 L187.05,88.80 L187.06,89.30 L187.06,89.80 L187.06,90.30 L187.06,90.80 L187.07,91.30 L187.07,91.80 L187.07,92.30 L187.08,92.80 L187.08,93.30 L187.09,93.80 L187.09,94.30 L187.10,94.80 L187.11,95.30 L187.13,95.80 L187.14,96.30 L187.17,96.80 L187.22,97.30 L187.28,97.80 L187.36,98.30 L187.46,98.80 L187.60,99.30 L187.75,99.80 L187.92,100.30 L188.11,100.80 L188.31,101.30 L188.51,101.80 L188.73,102.30 L188.94,102.80 L189.15,103.30 L189.37,103.80 L189.59,104.30 L189.82,104.80 L190.05,105.30 L190.27,105.80 L190.50,106.30 L190.74,106.80 L190.98,107.30 L191.21,107.80 L191.45,108.30 L191.69,108.80 L191.93,109.30 L192.17,109.80 L192.41,110.30 L192.64,110.80 L192.88,111.30 L193.12,111.80 L193.36,112.30 L193.60,112.80 L193.84,113.30 L194.08,113.80 L194.31,114.30 L194.53,114.80 L194.75,115.30 L194.95,115.80 L195.15,116.30 L195.33,116.80 L195.52,117.30 L195.70,117.80 L195.87,118.30 L196.05,118.80 L196.21,119.30 L196.37,119.80 L196.52,120.30 L196.66,120.80 L196.78,121.30 L196.90,121.80 L197.01,122.30 L197.12,122.80 L197.22,123.30 L197.32,123.80 L197.42,124.30 L197.51,124.80 L197.60,125.30 L197.67,125.80 L197.74,126.30 L197.79,126.80 L197.83,127.30 L197.85,127.80 L197.87,128.30 L197.88,128.80 L197.89,129.30 L197.91,129.80 L197.92,130.30 L197.93,130.80 L197.93,131.30 L197.94,131.80 L197.94,132.30 L197.95,132.80 L197.95,133.30 L197.95,133.80 L197.94,134.30 L197.93,134.80 L197.92,135.30 L197.91,135.80 L197.89,136.30 L197.87,136.80 L197.85,137.30 L197.82,137.80 L197.79,138.30 L197.76,138.80 L197.73,139.30 L197.67,139.80 L197.60,140.30 L197.51,140.80 L197.43,141.30 L197.35,141.80 L197.27,142.30 L197.18,142.80 L197.09,143.30 L197.00,143.80 L196.91,144.30 L196.82,144.80 L196.73,145.30 L196.63,145.80 L196.54,146.30 L196.45,146.80 L196.37,147.30 L196.28,147.80 L196.20,148.30 L196.11,148.80 L196.03,149.30 L195.94,149.80 L195.86,150.30 L195.77,150.80 L195.69,151.30 L195.61,151.80 L195.54,152.30 L195.46,152.80 L195.39,153.30 L195.32,153.80 L195.25,154.30 L195.18,154.80 L195.10,155.30 L195.03,155.80 L194.96,156.30 L194.89,156.80 L194.82,157.30 L194.77,157.80 L194.72,158.30 L194.69,158.80 L194.66,159.30 L194.66,159.80 L194.66,160.30 L194.66,160.80 L194.67,161.30 L194.68,161.80 L194.69,162.30 L194.71,162.80 L194.73,163.30 L194.75,163.80 L194.77,164.30 L194.79,164.80 L194.82,165.30 L194.85,165.80 L194.88,166.30 L194.93,166.80 L194.99,167.30 L195.06,167.80 L195.14,168.30 L195.23,168.80 L195.32,169.30 L195.42,169.80 L195.51,170.30 L195.61,170.80 L195.71,171.30 L195.80,171.80 L195.88,172.30 L195.97,172.80 L196.06,173.30 L196.16,173.80 L196.25,174.30 L196.35,174.80 L196.44,175.30 L196.54,175.80 L196.63,176.30 L196.71,176.80 L196.80,177.30 L196.88,177.80 L196.95,178.30 L197.02,178.80 L197.10,179.30 L197.17,179.80 L197.25,180.30 L197.32,180.80 L197.39,181.30 L197.45,181.80 L197.51,182.30 L197.56,182.80 L197.60,183.30 L197.63,183.80 L197.64,184.30 L197.65,184.80 L197.64,185.30 L197.64,185.80 L197.63,186.30 L197.63,186.80 L197.62,187.30 L197.60,187.80 L197.59,188.30 L197.57,188.80 L197.55,189.30 L197.52,189.80 L197.45,190.30 L197.36,190.80 L197.24,191.30 L197.09,191.80 L196.93,192.30 L196.75,192.80 L196.56,193.30 L196.45,193.60 L177.55,193.60 L177.44,193.30 L177.25,192.80 L177.07,192.30 L176.91,191.80 L176.76,191.30 L176.64,190.80 L176.55,190.30 L176.48,189.80 L176.45,189.30 L176.43,188.80 L176.41,188.30 L176.40,187.80 L176.38,187.30 L176.37,186.80 L176.37,186.30 L176.36,185.80 L176.36,185.30 L176.35,184.80 L176.36,184.30 L176.37,183.80 L176.40,183.30 L176.44,182.80 L176.49,182.30 L176.55,181.80 L176.61,181.30 L176.68,180.80 L176.75,180.30 L176.83,179.80 L176.90,179.30 L176.98,178.80 L177.05,178.30 L177.12,177.80 L177.20,177.30 L177.29,176.80 L177.37,176.30 L177.46,175.80 L177.56,175.30 L177.65,174.80 L177.75,174.30 L177.84,173.80 L177.94,173.30 L178.03,172.80 L178.12,172.30 L178.20,171.80 L178.29,171.30 L178.39,170.80 L178.49,170.30 L178.58,169.80 L178.68,169.30 L178.77,168.80 L178.86,168.30 L178.94,167.80 L179.01,167.30 L179.07,166.80 L179.12,166.30 L179.15,165.80 L179.18,165.30 L179.21,164.80 L179.23,164.30 L179.25,163.80 L179.27,163.30 L179.29,162.80 L179.31,162.30 L179.32,161.80 L179.33,161.30 L179.34,160.80 L179.34,160.30 L179.34,159.80 L179.34,159.30 L179.31,158.80 L179.28,158.30 L179.23,157.80 L179.18,157.30 L179.11,156.80 L179.04,156.30 L178.97,155.80 L178.90,155.30 L178.82,154.80 L178.75,154.30 L178.68,153.80 L178.61,153.30 L178.54,152.80 L178.46,152.30 L178.39,151.80 L178.31,151.30 L178.23,150.80 L178.14,150.30 L178.06,149.80 L177.97,149.30 L177.89,148.80 L177.80,148.30 L177.72,147.80 L177.63,147.30 L177.55,146.80 L177.46,146.30 L177.37,145.80 L177.27,145.30 L177.18,144.80 L177.09,144.30 L177.00,143.80 L176.91,143.30 L176.82,142.80 L176.73,142.30 L176.65,141.80 L176.57,141.30 L176.49,140.80 L176.40,140.30 L176.33,139.80 L176.27,139.30 L176.24,138.80 L176.21,138.30 L176.18,137.80 L176.15,137.30 L176.13,136.80 L176.11,136.30 L176.09,135.80 L176.08,135.30 L176.07,134.80 L176.06,134.30 L176.05,133.80 L176.05,133.30 L176.05,132.80 L176.06,132.30 L176.06,131.80 L176.07,131.30 L176.07,130.80 L176.08,130.30 L176.09,129.80 L176.11,129.30 L176.12,128.80 L176.13,128.30 L176.15,127.80 L176.17,127.30 L176.21,126.80 L176.26,126.30 L176.33,125.80 L176.40,125.30 L176.49,124.80 L176.58,124.30 L176.68,123.80 L176.78,123.30 L176.88,122.80 L176.99,122.30 L177.10,121.80 L177.22,121.30 L177.34,120.80 L177.48,120.30 L177.63,119.80 L177.79,119.30 L177.95,118.80 L178.13,118.30 L178.30,117.80 L178.48,117.30 L178.67,116.80 L178.85,116.30 L179.05,115.80 L179.25,115.30 L179.47,114.80 L179.69,114.30 L179.92,113.80 L180.16,113.30 L180.40,112.80 L180.64,112.30 L180.88,111.80 L181.12,111.30 L181.36,110.80 L181.59,110.30 L181.83,109.80 L182.07,109.30 L182.31,108.80 L182.55,108.30 L182.79,107.80 L183.02,107.30 L183.26,106.80 L183.50,106.30 L183.73,105.80 L183.95,105.30 L184.18,104.80 L184.41,104.30 L184.63,103.80 L184.85,103.30 L185.06,102.80 L185.27,102.30 L185.49,101.80 L185.69,101.30 L185.89,100.80 L186.08,100.30 L186.25,99.80 L186.40,99.30 L186.54,98.80 L186.64,98.30 L186.72,97.80 L186.78,97.30 L186.83,96.80 L186.86,96.30 L186.87,95.80 L186.89,95.30 L186.90,94.80 L186.91,94.30 L186.91,93.80 L186.92,93.30 L186.92,92.80 L186.93,92.30 L186.93,91.80 L186.93,91.30 L186.94,90.80 L186.94,90.30 L186.94,89.80 L186.94,89.30 L186.95,88.80 L186.95,88.30 L186.95,87.80 L186.95,87.30 L186.95,86.80 L186.95,86.30Z" fill="#0A5284" stroke="#000" stroke-width="1.05" stroke-linejoin="round"/>
<path d="M215.25,76.80 L215.25,77.30 L215.25,77.80 L215.25,78.30 L215.25,78.80 L215.25,79.30 L215.25,79.80 L215.25,80.30 L215.25,80.80 L215.25,81.30 L215.25,81.80 L215.25,82.30 L215.25,82.80 L215.25,83.30 L215.26,83.80 L215.26,84.30 L215.26,84.80 L215.26,85.30 L215.26,85.80 L215.26,86.30 L215.26,86.80 L215.26,87.30 L215.26,87.80 L215.27,88.30 L215.27,88.80 L215.27,89.30 L215.27,89.80 L215.27,90.30 L215.28,90.80 L215.28,91.30 L215.28,91.80 L215.28,92.30 L215.28,92.80 L215.29,93.30 L215.29,93.80 L215.29,94.30 L215.30,94.80 L215.30,95.30 L215.30,95.80 L215.30,96.30 L215.31,96.80 L215.31,97.30 L215.32,97.80 L215.32,98.30 L215.32,98.80 L215.33,99.30 L215.33,99.80 L215.34,100.30 L215.35,100.80 L215.37,101.30 L215.39,101.80 L215.41,102.30 L215.45,102.80 L215.49,103.30 L215.53,103.80 L215.59,104.30 L215.65,104.80 L215.71,105.30 L215.77,105.80 L215.83,106.30 L215.89,106.80 L215.95,107.30 L216.01,107.80 L216.07,108.30 L216.13,108.80 L216.18,109.30 L216.24,109.80 L216.29,110.30 L216.34,110.80 L216.38,111.30 L216.42,111.80 L216.45,112.30 L216.48,112.80 L216.50,113.30 L216.52,113.80 L216.53,114.30 L216.54,114.80 L216.56,115.30 L216.57,115.80 L216.59,116.30 L216.60,116.80 L216.62,117.30 L216.65,117.80 L216.68,118.30 L216.72,118.80 L216.78,119.30 L216.84,119.80 L216.90,120.30 L216.97,120.80 L217.05,121.30 L217.12,121.80 L217.19,122.30 L217.26,122.80 L217.32,123.30 L217.37,123.80 L217.43,124.30 L217.48,124.80 L217.54,125.30 L217.60,125.80 L217.65,126.30 L217.71,126.80 L217.75,127.30 L217.79,127.80 L217.82,128.30 L217.84,128.80 L217.85,129.30 L217.85,129.80 L217.85,130.30 L217.85,130.80 L217.85,131.30 L217.85,131.80 L217.85,132.30 L217.85,132.80 L217.85,133.30 L217.85,133.80 L217.85,134.30 L217.85,134.80 L217.85,135.30 L217.84,135.80 L217.83,136.30 L217.82,136.80 L217.80,137.30 L217.78,137.80 L217.76,138.30 L217.74,138.80 L217.71,139.30 L217.69,139.80 L217.67,140.30 L217.65,140.80 L217.62,141.30 L217.60,141.80 L217.57,142.30 L217.54,142.80 L217.51,143.30 L217.49,143.80 L217.46,144.30 L217.43,144.80 L217.40,145.30 L217.38,145.80 L217.36,146.30 L217.33,146.80 L217.31,147.30 L217.29,147.80 L217.28,148.30 L217.26,148.80 L217.24,149.30 L217.22,149.80 L217.21,150.30 L217.19,150.80 L217.18,151.30 L217.16,151.80 L217.14,152.30 L217.13,152.80 L217.11,153.30 L217.09,153.80 L217.07,154.30 L217.06,154.80 L217.06,155.30 L217.06,155.80 L217.08,156.30 L217.11,156.80 L217.16,157.30 L217.21,157.80 L217.28,158.30 L217.35,158.80 L217.42,159.30 L217.50,159.80 L217.59,160.30 L217.67,160.80 L217.77,161.30 L217.88,161.80 L218.00,162.30 L218.14,162.80 L218.29,163.30 L218.44,163.80 L218.60,164.30 L218.76,164.80 L218.92,165.30 L219.09,165.80 L219.25,166.30 L219.41,166.80 L219.58,167.30 L219.76,167.80 L219.94,168.30 L220.12,168.80 L220.31,169.30 L220.50,169.80 L220.69,170.30 L220.89,170.80 L221.09,171.30 L221.30,171.80 L221.52,172.30 L221.75,172.80 L221.98,173.30 L222.21,173.80 L222.45,174.30 L222.68,174.80 L222.91,175.30 L223.14,175.80 L223.36,176.30 L223.58,176.80 L223.81,177.30 L224.05,177.80 L224.28,178.30 L224.52,178.80 L224.74,179.30 L224.96,179.80 L225.15,180.30 L225.32,180.80 L225.45,181.30 L225.56,181.80 L225.65,182.30 L225.73,182.80 L225.81,183.30 L225.89,183.80 L225.96,184.30 L226.01,184.80 L226.06,185.30 L226.10,185.80 L226.13,186.30 L226.14,186.80 L226.14,187.30 L226.11,187.80 L226.07,188.30 L226.01,188.80 L225.93,189.30 L225.84,189.80 L225.74,190.30 L225.63,190.80 L225.51,191.30 L225.34,191.80 L225.11,192.30 L224.84,192.80 L224.53,193.30 L224.19,193.80 L224.05,194.00 L206.35,194.00 L206.21,193.80 L205.87,193.30 L205.56,192.80 L205.29,192.30 L205.06,191.80 L204.89,191.30 L204.77,190.80 L204.66,190.30 L204.56,189.80 L204.47,189.30 L204.39,188.80 L204.33,188.30 L204.29,187.80 L204.26,187.30 L204.26,186.80 L204.27,186.30 L204.30,185.80 L204.34,185.30 L204.39,184.80 L204.44,184.30 L204.51,183.80 L204.59,183.30 L204.67,182.80 L204.75,182.30 L204.84,181.80 L204.95,181.30 L205.08,180.80 L205.25,180.30 L205.44,179.80 L205.66,179.30 L205.88,178.80 L206.12,178.30 L206.35,177.80 L206.59,177.30 L206.82,176.80 L207.04,176.30 L207.26,175.80 L207.49,175.30 L207.72,174.80 L207.95,174.30 L208.19,173.80 L208.42,173.30 L208.65,172.80 L208.88,172.30 L209.10,171.80 L209.31,171.30 L209.51,170.80 L209.71,170.30 L209.90,169.80 L210.09,169.30 L210.28,168.80 L210.46,168.30 L210.64,167.80 L210.82,167.30 L210.99,166.80 L211.15,166.30 L211.31,165.80 L211.48,165.30 L211.64,164.80 L211.80,164.30 L211.96,163.80 L212.11,163.30 L212.26,162.80 L212.40,162.30 L212.52,161.80 L212.63,161.30 L212.73,160.80 L212.81,160.30 L212.90,159.80 L212.98,159.30 L213.05,158.80 L213.12,158.30 L213.19,157.80 L213.24,157.30 L213.29,156.80 L213.32,156.30 L213.34,155.80 L213.34,155.30 L213.34,154.80 L213.33,154.30 L213.31,153.80 L213.29,153.30 L213.27,152.80 L213.26,152.30 L213.24,151.80 L213.22,151.30 L213.21,150.80 L213.19,150.30 L213.18,149.80 L213.16,149.30 L213.14,148.80 L213.12,148.30 L213.11,147.80 L213.09,147.30 L213.07,146.80 L213.04,146.30 L213.02,145.80 L213.00,145.30 L212.97,144.80 L212.94,144.30 L212.91,143.80 L212.89,143.30 L212.86,142.80 L212.83,142.30 L212.80,141.80 L212.78,141.30 L212.75,140.80 L212.73,140.30 L212.71,139.80 L212.69,139.30 L212.66,138.80 L212.64,138.30 L212.62,137.80 L212.60,137.30 L212.58,136.80 L212.57,136.30 L212.56,135.80 L212.55,135.30 L212.55,134.80 L212.55,134.30 L212.55,133.80 L212.55,133.30 L212.55,132.80 L212.55,132.30 L212.55,131.80 L212.55,131.30 L212.55,130.80 L212.55,130.30 L212.55,129.80 L212.55,129.30 L212.56,128.80 L212.58,128.30 L212.61,127.80 L212.65,127.30 L212.69,126.80 L212.75,126.30 L212.80,125.80 L212.86,125.30 L212.92,124.80 L212.97,124.30 L213.03,123.80 L213.08,123.30 L213.14,122.80 L213.21,122.30 L213.28,121.80 L213.35,121.30 L213.43,120.80 L213.50,120.30 L213.56,119.80 L213.62,119.30 L213.68,118.80 L213.72,118.30 L213.75,117.80 L213.78,117.30 L213.80,116.80 L213.81,116.30 L213.83,115.80 L213.84,115.30 L213.86,114.80 L213.87,114.30 L213.88,113.80 L213.90,113.30 L213.92,112.80 L213.95,112.30 L213.98,111.80 L214.02,111.30 L214.06,110.80 L214.11,110.30 L214.16,109.80 L214.22,109.30 L214.27,108.80 L214.33,108.30 L214.39,107.80 L214.45,107.30 L214.51,106.80 L214.57,106.30 L214.63,105.80 L214.69,105.30 L214.75,104.80 L214.81,104.30 L214.87,103.80 L214.91,103.30 L214.95,102.80 L214.99,102.30 L215.01,101.80 L215.03,101.30 L215.05,100.80 L215.06,100.30 L215.07,99.80 L215.07,99.30 L215.08,98.80 L215.08,98.30 L215.08,97.80 L215.09,97.30 L215.09,96.80 L215.10,96.30 L215.10,95.80 L215.10,95.30 L215.10,94.80 L215.11,94.30 L215.11,93.80 L215.11,93.30 L215.12,92.80 L215.12,92.30 L215.12,91.80 L215.12,91.30 L215.12,90.80 L215.13,90.30 L215.13,89.80 L215.13,89.30 L215.13,88.80 L215.13,88.30 L215.14,87.80 L215.14,87.30 L215.14,86.80 L215.14,86.30 L215.14,85.80 L215.14,85.30 L215.14,84.80 L215.14,84.30 L215.14,83.80 L215.15,83.30 L215.15,82.80 L215.15,82.30 L215.15,81.80 L215.15,81.30 L215.15,80.80 L215.15,80.30 L215.15,79.80 L215.15,79.30 L215.15,78.80 L215.15,78.30 L215.15,77.80 L215.15,77.30 L215.15,76.80Z" fill="#C32032" stroke="#000" stroke-width="1.05" stroke-linejoin="round"/>
<path d="M238.35,75.20 L238.35,75.70 L238.35,76.20 L238.35,76.70 L238.35,77.20 L238.35,77.70 L238.36,78.20 L238.36,78.70 L238.36,79.20 L238.36,79.70 L238.37,80.20 L238.37,80.70 L238.37,81.20 L238.38,81.70 L238.38,82.20 L238.39,82.70 L238.39,83.20 L238.40,83.70 L238.41,84.20 L238.42,84.70 L238.44,85.20 L238.46,85.70 L238.50,86.20 L238.55,86.70 L238.62,87.20 L238.71,87.70 L238.82,88.20 L238.95,88.70 L239.11,89.20 L239.28,89.70 L239.47,90.20 L239.68,90.70 L239.90,91.20 L240.13,91.70 L240.36,92.20 L240.61,92.70 L240.86,93.20 L241.12,93.70 L241.37,94.20 L241.63,94.70 L241.88,95.20 L242.13,95.70 L242.37,96.20 L242.62,96.70 L242.86,97.20 L243.10,97.70 L243.33,98.20 L243.57,98.70 L243.80,99.20 L244.04,99.70 L244.27,100.20 L244.50,100.70 L244.73,101.20 L244.96,101.70 L245.19,102.20 L245.42,102.70 L245.65,103.20 L245.87,103.70 L246.09,104.20 L246.31,104.70 L246.52,105.20 L246.72,105.70 L246.91,106.20 L247.09,106.70 L247.28,107.20 L247.45,107.70 L247.63,108.20 L247.80,108.70 L247.96,109.20 L248.12,109.70 L248.27,110.20 L248.42,110.70 L248.55,111.20 L248.68,111.70 L248.79,112.20 L248.91,112.70 L249.03,113.20 L249.15,113.70 L249.26,114.20 L249.37,114.70 L249.47,115.20 L249.56,115.70 L249.63,116.20 L249.69,116.70 L249.72,117.20 L249.73,117.70 L249.71,118.20 L249.66,118.70 L249.58,119.20 L249.47,119.70 L249.35,120.20 L249.21,120.70 L249.07,121.20 L248.94,121.70 L248.81,122.20 L248.69,122.70 L248.59,123.20 L248.51,123.70 L248.45,124.20 L248.39,124.70 L248.31,125.20 L248.22,125.70 L248.12,126.20 L248.01,126.70 L247.89,127.20 L247.76,127.70 L247.62,128.20 L247.48,128.70 L247.34,129.20 L247.20,129.70 L247.06,130.20 L246.92,130.70 L246.78,131.20 L246.65,131.70 L246.53,132.20 L246.40,132.70 L246.27,133.20 L246.14,133.70 L246.01,134.20 L245.88,134.70 L245.75,135.20 L245.62,135.70 L245.49,136.20 L245.37,136.70 L245.26,137.20 L245.15,137.70 L245.05,138.20 L244.95,138.70 L244.87,139.20 L244.79,139.70 L244.72,140.20 L244.65,140.70 L244.58,141.20 L244.51,141.70 L244.45,142.20 L244.39,142.70 L244.33,143.20 L244.28,143.70 L244.23,144.20 L244.18,144.70 L244.14,145.20 L244.10,145.70 L244.06,146.20 L244.03,146.70 L244.00,147.20 L243.97,147.70 L243.94,148.20 L243.91,148.70 L243.89,149.20 L243.86,149.70 L243.84,150.20 L243.82,150.70 L243.80,151.20 L243.78,151.70 L243.77,152.20 L243.76,152.70 L243.75,153.20 L243.75,153.70 L243.75,154.20 L243.75,154.70 L243.75,155.20 L243.75,155.70 L243.75,156.20 L243.75,156.70 L243.75,157.20 L243.75,157.70 L243.75,158.20 L243.75,158.70 L243.75,159.20 L243.75,159.70 L243.75,160.20 L243.75,160.70 L243.75,161.20 L243.75,161.70 L243.75,162.20 L243.75,162.70 L243.75,163.20 L243.75,163.70 L243.75,164.20 L243.75,164.70 L243.75,165.20 L243.75,165.70 L243.75,166.20 L243.75,166.70 L243.75,167.20 L243.75,167.70 L243.75,168.20 L243.74,168.70 L243.74,169.20 L243.73,169.70 L243.72,170.20 L243.71,170.70 L243.69,171.20 L243.68,171.70 L243.66,172.20 L243.64,172.70 L243.62,173.20 L243.60,173.70 L243.58,174.20 L243.56,174.70 L243.54,175.20 L243.52,175.70 L243.50,176.20 L243.47,176.70 L243.44,177.20 L243.41,177.70 L243.38,178.20 L243.34,178.70 L243.31,179.20 L243.27,179.70 L243.23,180.20 L243.18,180.70 L243.14,181.20 L243.09,181.70 L243.03,182.20 L242.97,182.70 L242.90,183.20 L242.81,183.70 L242.72,184.20 L242.62,184.70 L242.52,185.20 L242.41,185.70 L242.30,186.20 L242.19,186.70 L242.09,187.20 L241.99,187.70 L241.89,188.20 L241.80,188.70 L241.71,189.20 L241.61,189.70 L241.52,190.20 L241.43,190.70 L241.33,191.20 L241.24,191.70 L241.15,192.20 L241.05,192.70 L240.96,193.20 L240.87,193.70 L240.85,193.80 L235.75,193.80 L235.73,193.70 L235.64,193.20 L235.55,192.70 L235.45,192.20 L235.36,191.70 L235.27,191.20 L235.17,190.70 L235.08,190.20 L234.99,189.70 L234.89,189.20 L234.80,188.70 L234.71,188.20 L234.61,187.70 L234.51,187.20 L234.41,186.70 L234.30,186.20 L234.19,185.70 L234.08,185.20 L233.98,184.70 L233.88,184.20 L233.79,183.70 L233.70,183.20 L233.63,182.70 L233.57,182.20 L233.51,181.70 L233.46,181.20 L233.42,180.70 L233.37,180.20 L233.33,179.70 L233.29,179.20 L233.26,178.70 L233.22,178.20 L233.19,177.70 L233.16,177.20 L233.13,176.70 L233.10,176.20 L233.08,175.70 L233.06,175.20 L233.04,174.70 L233.02,174.20 L233.00,173.70 L232.98,173.20 L232.96,172.70 L232.94,172.20 L232.92,171.70 L232.91,171.20 L232.89,170.70 L232.88,170.20 L232.87,169.70 L232.86,169.20 L232.86,168.70 L232.85,168.20 L232.85,167.70 L232.85,167.20 L232.85,166.70 L232.85,166.20 L232.85,165.70 L232.85,165.20 L232.85,164.70 L232.85,164.20 L232.85,163.70 L232.85,163.20 L232.85,162.70 L232.85,162.20 L232.85,161.70 L232.85,161.20 L232.85,160.70 L232.85,160.20 L232.85,159.70 L232.85,159.20 L232.85,158.70 L232.85,158.20 L232.85,157.70 L232.85,157.20 L232.85,156.70 L232.85,156.20 L232.85,155.70 L232.85,155.20 L232.85,154.70 L232.85,154.20 L232.85,153.70 L232.85,153.20 L232.84,152.70 L232.83,152.20 L232.82,151.70 L232.80,151.20 L232.78,150.70 L232.76,150.20 L232.74,149.70 L232.71,149.20 L232.69,148.70 L232.66,148.20 L232.63,147.70 L232.60,147.20 L232.57,146.70 L232.54,146.20 L232.50,145.70 L232.46,145.20 L232.42,144.70 L232.37,144.20 L232.32,143.70 L232.27,143.20 L232.21,142.70 L232.15,142.20 L232.09,141.70 L232.02,141.20 L231.95,140.70 L231.88,140.20 L231.81,139.70 L231.73,139.20 L231.65,138.70 L231.55,138.20 L231.45,137.70 L231.34,137.20 L231.23,136.70 L231.11,136.20 L230.98,135.70 L230.85,135.20 L230.72,134.70 L230.59,134.20 L230.46,133.70 L230.33,133.20 L230.20,132.70 L230.07,132.20 L229.95,131.70 L229.82,131.20 L229.68,130.70 L229.54,130.20 L229.40,129.70 L229.26,129.20 L229.12,128.70 L228.98,128.20 L228.84,127.70 L228.71,127.20 L228.59,126.70 L228.48,126.20 L228.38,125.70 L228.29,125.20 L228.21,124.70 L228.15,124.20 L228.09,123.70 L228.01,123.20 L227.91,122.70 L227.79,122.20 L227.66,121.70 L227.53,121.20 L227.39,120.70 L227.25,120.20 L227.13,119.70 L227.02,119.20 L226.94,118.70 L226.89,118.20 L226.87,117.70 L226.88,117.20 L226.91,116.70 L226.97,116.20 L227.04,115.70 L227.13,115.20 L227.23,114.70 L227.34,114.20 L227.45,113.70 L227.57,113.20 L227.69,112.70 L227.81,112.20 L227.92,111.70 L228.05,111.20 L228.18,110.70 L228.33,110.20 L228.48,109.70 L228.64,109.20 L228.80,108.70 L228.97,108.20 L229.15,107.70 L229.32,107.20 L229.51,106.70 L229.69,106.20 L229.88,105.70 L230.08,105.20 L230.29,104.70 L230.51,104.20 L230.73,103.70 L230.95,103.20 L231.18,102.70 L231.41,102.20 L231.64,101.70 L231.87,101.20 L232.10,100.70 L232.33,100.20 L232.56,99.70 L232.80,99.20 L233.03,98.70 L233.27,98.20 L233.50,97.70 L233.74,97.20 L233.98,96.70 L234.23,96.20 L234.47,95.70 L234.72,95.20 L234.97,94.70 L235.23,94.20 L235.48,93.70 L235.74,93.20 L235.99,92.70 L236.24,92.20 L236.47,91.70 L236.70,91.20 L236.92,90.70 L237.13,90.20 L237.32,89.70 L237.49,89.20 L237.65,88.70 L237.78,88.20 L237.89,87.70 L237.98,87.20 L238.05,86.70 L238.10,86.20 L238.14,85.70 L238.16,85.20 L238.18,84.70 L238.19,84.20 L238.20,83.70 L238.21,83.20 L238.21,82.70 L238.22,82.20 L238.22,81.70 L238.23,81.20 L238.23,80.70 L238.23,80.20 L238.24,79.70 L238.24,79.20 L238.24,78.70 L238.24,78.20 L238.25,77.70 L238.25,77.20 L238.25,76.70 L238.25,76.20 L238.25,75.70 L238.25,75.20Z" fill="#0A5284" stroke="#000" stroke-width="1.05" stroke-linejoin="round"/>
<path d="M266.95,158.90 L266.95,159.40 L266.96,159.90 L266.98,160.40 L267.01,160.90 L267.04,161.40 L267.30,161.90 L267.86,162.40 L268.29,162.90 L268.70,163.40 L269.01,163.90 L269.20,164.40 L269.37,164.90 L269.45,165.40 L269.41,165.90 L269.28,166.40 L269.09,166.90 L268.81,167.40 L268.37,167.90 L267.92,168.40 L267.54,168.90 L267.21,169.40 L267.11,169.90 L267.07,170.40 L267.05,170.90 L267.05,171.40 L267.05,171.90 L267.05,172.40 L267.05,172.90 L267.05,173.40 L267.05,173.90 L267.05,174.40 L267.05,174.90 L267.05,175.40 L267.05,175.90 L267.05,176.40 L267.05,176.90 L267.09,177.40 L267.61,177.90 L268.40,178.40 L269.21,178.90 L270.19,179.40 L271.17,179.90 L272.06,180.40 L272.94,180.90 L273.78,181.40 L274.55,181.90 L275.27,182.40 L275.96,182.90 L276.59,183.40 L277.11,183.90 L277.56,184.40 L277.97,184.90 L278.19,185.40 L278.18,185.90 L278.12,186.40 L278.02,186.90 L277.77,187.40 L277.19,187.90 L276.49,188.40 L275.74,188.90 L274.84,189.40 L273.89,189.90 L272.91,190.40 L271.88,190.90 L270.88,191.40 L269.96,191.90 L269.07,192.40 L268.32,192.90 L267.76,193.40 L267.29,193.90 L267.05,194.25 L266.75,194.25 L266.51,193.90 L266.04,193.40 L265.48,192.90 L264.73,192.40 L263.84,191.90 L262.92,191.40 L261.92,190.90 L260.89,190.40 L259.91,189.90 L258.96,189.40 L258.06,188.90 L257.31,188.40 L256.61,187.90 L256.03,187.40 L255.78,186.90 L255.68,186.40 L255.62,185.90 L255.61,185.40 L255.83,184.90 L256.24,184.40 L256.69,183.90 L257.21,183.40 L257.84,182.90 L258.53,182.40 L259.25,181.90 L260.02,181.40 L260.86,180.90 L261.74,180.40 L262.63,179.90 L263.61,179.40 L264.59,178.90 L265.40,178.40 L266.19,177.90 L266.71,177.40 L266.75,176.90 L266.75,176.40 L266.75,175.90 L266.75,175.40 L266.75,174.90 L266.75,174.40 L266.75,173.90 L266.75,173.40 L266.75,172.90 L266.75,172.40 L266.75,171.90 L266.75,171.40 L266.75,170.90 L266.73,170.40 L266.69,169.90 L266.59,169.40 L266.26,168.90 L265.88,168.40 L265.43,167.90 L264.99,167.40 L264.71,166.90 L264.52,166.40 L264.39,165.90 L264.35,165.40 L264.43,164.90 L264.60,164.40 L264.79,163.90 L265.10,163.40 L265.51,162.90 L265.94,162.40 L266.50,161.90 L266.76,161.40 L266.79,160.90 L266.82,160.40 L266.84,159.90 L266.85,159.40 L266.85,158.90Z" fill="#C32032" stroke="#000" stroke-width="1.05" stroke-linejoin="round"/>
<path d="M290.05,76.00 L290.05,76.50 L290.05,77.00 L290.05,77.50 L290.05,78.00 L290.06,78.50 L290.06,79.00 L290.06,79.50 L290.06,80.00 L290.07,80.50 L290.07,81.00 L290.08,81.50 L290.08,82.00 L290.09,82.50 L290.10,83.00 L290.10,83.50 L290.12,84.00 L290.13,84.50 L290.16,85.00 L290.19,85.50 L290.23,86.00 L290.29,86.50 L290.37,87.00 L290.46,87.50 L290.57,88.00 L290.70,88.50 L290.83,89.00 L290.96,89.50 L291.11,90.00 L291.25,90.50 L291.40,91.00 L291.54,91.50 L291.69,92.00 L291.84,92.50 L291.99,93.00 L292.13,93.50 L292.28,94.00 L292.43,94.50 L292.58,95.00 L292.72,95.50 L292.87,96.00 L293.01,96.50 L293.15,97.00 L293.30,97.50 L293.44,98.00 L293.58,98.50 L293.72,99.00 L293.85,99.50 L293.99,100.00 L294.12,100.50 L294.25,101.00 L294.38,101.50 L294.51,102.00 L294.63,102.50 L294.75,103.00 L294.87,103.50 L294.99,104.00 L295.11,104.50 L295.23,105.00 L295.36,105.50 L295.48,106.00 L295.60,106.50 L295.72,107.00 L295.84,107.50 L295.96,108.00 L296.09,108.50 L296.21,109.00 L296.33,109.50 L296.45,110.00 L296.58,110.50 L296.70,111.00 L296.82,111.50 L296.95,112.00 L297.08,112.50 L297.21,113.00 L297.35,113.50 L297.48,114.00 L297.62,114.50 L297.75,115.00 L297.89,115.50 L298.02,116.00 L298.15,116.50 L298.28,117.00 L298.40,117.50 L298.52,118.00 L298.63,118.50 L298.74,119.00 L298.85,119.50 L298.96,120.00 L299.07,120.50 L299.17,121.00 L299.28,121.50 L299.38,122.00 L299.47,122.50 L299.57,123.00 L299.67,123.50 L299.76,124.00 L299.86,124.50 L299.95,125.00 L300.04,125.50 L300.13,126.00 L300.22,126.50 L300.31,127.00 L300.39,127.50 L300.48,128.00 L300.56,128.50 L300.63,129.00 L300.71,129.50 L300.80,130.00 L300.88,130.50 L300.96,131.00 L301.01,131.50 L301.04,132.00 L301.04,132.50 L301.02,133.00 L301.00,133.50 L300.97,134.00 L300.92,134.50 L300.87,135.00 L300.82,135.50 L300.75,136.00 L300.69,136.50 L300.61,137.00 L300.54,137.50 L300.46,138.00 L300.38,138.50 L300.29,139.00 L300.21,139.50 L300.11,140.00 L300.00,140.50 L299.88,141.00 L299.75,141.50 L299.60,142.00 L299.45,142.50 L299.29,143.00 L299.12,143.50 L298.96,144.00 L298.79,144.50 L298.62,145.00 L298.45,145.50 L298.28,146.00 L298.12,146.50 L297.95,147.00 L297.78,147.50 L297.60,148.00 L297.43,148.50 L297.24,149.00 L297.06,149.50 L296.88,150.00 L296.69,150.50 L296.51,151.00 L296.34,151.50 L296.16,152.00 L296.00,152.50 L295.83,153.00 L295.68,153.50 L295.53,154.00 L295.37,154.50 L295.21,155.00 L295.05,155.50 L294.89,156.00 L294.74,156.50 L294.58,157.00 L294.44,157.50 L294.31,158.00 L294.18,158.50 L294.08,159.00 L293.99,159.50 L293.92,160.00 L293.87,160.50 L293.84,161.00 L293.81,161.50 L293.79,162.00 L293.77,162.50 L293.75,163.00 L293.73,163.50 L293.72,164.00 L293.70,164.50 L293.69,165.00 L293.68,165.50 L293.67,166.00 L293.66,166.50 L293.66,167.00 L293.66,167.50 L293.66,168.00 L293.67,168.50 L293.71,169.00 L293.75,169.50 L293.81,170.00 L293.88,170.50 L293.96,171.00 L294.04,171.50 L294.12,172.00 L294.19,172.50 L294.26,173.00 L294.33,173.50 L294.38,174.00 L294.42,174.50 L294.45,175.00 L294.46,175.50 L294.47,176.00 L294.48,176.50 L294.49,177.00 L294.50,177.50 L294.51,178.00 L294.52,178.50 L294.53,179.00 L294.53,179.50 L294.54,180.00 L294.54,180.50 L294.55,181.00 L294.55,181.50 L294.55,182.00 L294.55,182.50 L294.54,183.00 L294.52,183.50 L294.50,184.00 L294.48,184.50 L294.45,185.00 L294.42,185.50 L294.39,186.00 L294.35,186.50 L294.32,187.00 L294.28,187.50 L294.24,188.00 L294.20,188.50 L294.15,189.00 L294.10,189.50 L294.04,190.00 L293.97,190.50 L293.90,191.00 L293.83,191.50 L293.75,192.00 L293.67,192.50 L293.59,193.00 L293.50,193.50 L293.45,193.80 L286.55,193.80 L286.50,193.50 L286.41,193.00 L286.33,192.50 L286.25,192.00 L286.17,191.50 L286.10,191.00 L286.03,190.50 L285.96,190.00 L285.90,189.50 L285.85,189.00 L285.80,188.50 L285.76,188.00 L285.72,187.50 L285.68,187.00 L285.65,186.50 L285.61,186.00 L285.58,185.50 L285.55,185.00 L285.52,184.50 L285.50,184.00 L285.48,183.50 L285.46,183.00 L285.45,182.50 L285.45,182.00 L285.45,181.50 L285.45,181.00 L285.46,180.50 L285.46,180.00 L285.47,179.50 L285.47,179.00 L285.48,178.50 L285.49,178.00 L285.50,177.50 L285.51,177.00 L285.52,176.50 L285.53,176.00 L285.54,175.50 L285.55,175.00 L285.58,174.50 L285.62,174.00 L285.67,173.50 L285.74,173.00 L285.81,172.50 L285.88,172.00 L285.96,171.50 L286.04,171.00 L286.12,170.50 L286.19,170.00 L286.25,169.50 L286.29,169.00 L286.33,168.50 L286.34,168.00 L286.34,167.50 L286.34,167.00 L286.34,166.50 L286.33,166.00 L286.32,165.50 L286.31,165.00 L286.30,164.50 L286.28,164.00 L286.27,163.50 L286.25,163.00 L286.23,162.50 L286.21,162.00 L286.19,161.50 L286.16,161.00 L286.13,160.50 L286.08,160.00 L286.01,159.50 L285.92,159.00 L285.82,158.50 L285.69,158.00 L285.56,157.50 L285.42,157.00 L285.26,156.50 L285.11,156.00 L284.95,155.50 L284.79,155.00 L284.63,154.50 L284.47,154.00 L284.32,153.50 L284.17,153.00 L284.00,152.50 L283.84,152.00 L283.66,151.50 L283.49,151.00 L283.31,150.50 L283.12,150.00 L282.94,149.50 L282.76,149.00 L282.57,148.50 L282.40,148.00 L282.22,147.50 L282.05,147.00 L281.88,146.50 L281.72,146.00 L281.55,145.50 L281.38,145.00 L281.21,144.50 L281.04,144.00 L280.88,143.50 L280.71,143.00 L280.55,142.50 L280.40,142.00 L280.25,141.50 L280.12,141.00 L280.00,140.50 L279.89,140.00 L279.79,139.50 L279.71,139.00 L279.62,138.50 L279.54,138.00 L279.46,137.50 L279.39,137.00 L279.31,136.50 L279.25,136.00 L279.18,135.50 L279.13,135.00 L279.08,134.50 L279.03,134.00 L279.00,133.50 L278.98,133.00 L278.96,132.50 L278.96,132.00 L278.99,131.50 L279.04,131.00 L279.12,130.50 L279.20,130.00 L279.29,129.50 L279.37,129.00 L279.44,128.50 L279.52,128.00 L279.61,127.50 L279.69,127.00 L279.78,126.50 L279.87,126.00 L279.96,125.50 L280.05,125.00 L280.14,124.50 L280.24,124.00 L280.33,123.50 L280.43,123.00 L280.53,122.50 L280.62,122.00 L280.72,121.50 L280.83,121.00 L280.93,120.50 L281.04,120.00 L281.15,119.50 L281.26,119.00 L281.37,118.50 L281.48,118.00 L281.60,117.50 L281.72,117.00 L281.85,116.50 L281.98,116.00 L282.11,115.50 L282.25,115.00 L282.38,114.50 L282.52,114.00 L282.65,113.50 L282.79,113.00 L282.92,112.50 L283.05,112.00 L283.18,111.50 L283.30,111.00 L283.42,110.50 L283.55,110.00 L283.67,109.50 L283.79,109.00 L283.91,108.50 L284.04,108.00 L284.16,107.50 L284.28,107.00 L284.40,106.50 L284.52,106.00 L284.64,105.50 L284.77,105.00 L284.89,104.50 L285.01,104.00 L285.13,103.50 L285.25,103.00 L285.37,102.50 L285.49,102.00 L285.62,101.50 L285.75,101.00 L285.88,100.50 L286.01,100.00 L286.15,99.50 L286.28,99.00 L286.42,98.50 L286.56,98.00 L286.70,97.50 L286.85,97.00 L286.99,96.50 L287.13,96.00 L287.28,95.50 L287.42,95.00 L287.57,94.50 L287.72,94.00 L287.87,93.50 L288.01,93.00 L288.16,92.50 L288.31,92.00 L288.46,91.50 L288.60,91.00 L288.75,90.50 L288.89,90.00 L289.04,89.50 L289.17,89.00 L289.30,88.50 L289.43,88.00 L289.54,87.50 L289.63,87.00 L289.71,86.50 L289.77,86.00 L289.81,85.50 L289.84,85.00 L289.87,84.50 L289.88,84.00 L289.90,83.50 L289.90,83.00 L289.91,82.50 L289.92,82.00 L289.92,81.50 L289.93,81.00 L289.93,80.50 L289.94,80.00 L289.94,79.50 L289.94,79.00 L289.94,78.50 L289.95,78.00 L289.95,77.50 L289.95,77.00 L289.95,76.50 L289.95,76.00Z" fill="#0A5284" stroke="#000" stroke-width="1.05" stroke-linejoin="round"/>
<path d="M318.35,123.80 L318.35,124.30 L318.35,124.80 L318.35,125.30 L318.36,125.80 L318.36,126.30 L318.36,126.80 L318.36,127.30 L318.37,127.80 L318.37,128.30 L318.38,128.80 L318.39,129.30 L318.39,129.80 L318.41,130.30 L318.43,130.80 L318.46,131.30 L318.51,131.80 L318.58,132.30 L318.67,132.80 L318.79,133.30 L318.93,133.80 L319.10,134.30 L319.27,134.80 L319.44,135.30 L319.61,135.80 L319.77,136.30 L319.91,136.80 L320.04,137.30 L320.15,137.80 L320.26,138.30 L320.36,138.80 L320.45,139.30 L320.54,139.80 L320.62,140.30 L320.71,140.80 L320.79,141.30 L320.87,141.80 L320.95,142.30 L321.03,142.80 L321.12,143.30 L321.20,143.80 L321.29,144.30 L321.37,144.80 L321.45,145.30 L321.53,145.80 L321.60,146.30 L321.68,146.80 L321.76,147.30 L321.83,147.80 L321.91,148.30 L321.99,148.80 L322.06,149.30 L322.14,149.80 L322.22,150.30 L322.30,150.80 L322.37,151.30 L322.44,151.80 L322.51,152.30 L322.57,152.80 L322.64,153.30 L322.70,153.80 L322.77,154.30 L322.84,154.80 L322.92,155.30 L323.00,155.80 L323.08,156.30 L323.17,156.80 L323.28,157.30 L323.39,157.80 L323.52,158.30 L323.68,158.80 L323.87,159.30 L324.09,159.80 L324.34,160.30 L324.60,160.80 L324.88,161.30 L325.16,161.80 L325.44,162.30 L325.73,162.80 L326.00,163.30 L326.26,163.80 L326.49,164.30 L326.74,164.80 L326.99,165.30 L327.25,165.80 L327.51,166.30 L327.76,166.80 L328.01,167.30 L328.24,167.80 L328.46,168.30 L328.65,168.80 L328.81,169.30 L328.94,169.80 L329.04,170.30 L329.11,170.80 L329.18,171.30 L329.24,171.80 L329.30,172.30 L329.35,172.80 L329.40,173.30 L329.44,173.80 L329.47,174.30 L329.50,174.80 L329.52,175.30 L329.53,175.80 L329.53,176.30 L329.50,176.80 L329.42,177.30 L329.27,177.80 L329.09,178.30 L328.86,178.80 L328.59,179.30 L328.31,179.80 L328.00,180.30 L327.69,180.80 L327.37,181.30 L327.06,181.80 L326.76,182.30 L326.47,182.80 L326.17,183.30 L325.85,183.80 L325.51,184.30 L325.16,184.80 L324.81,185.30 L324.45,185.80 L324.09,186.30 L323.74,186.80 L323.39,187.30 L323.06,187.80 L322.74,188.30 L322.44,188.80 L322.14,189.30 L321.85,189.80 L321.57,190.30 L321.29,190.80 L321.02,191.30 L320.76,191.80 L320.50,192.30 L320.23,192.80 L319.98,193.30 L319.74,193.80 L319.55,194.20 L317.05,194.20 L316.86,193.80 L316.62,193.30 L316.37,192.80 L316.10,192.30 L315.84,191.80 L315.58,191.30 L315.31,190.80 L315.03,190.30 L314.75,189.80 L314.46,189.30 L314.16,188.80 L313.86,188.30 L313.54,187.80 L313.21,187.30 L312.86,186.80 L312.51,186.30 L312.15,185.80 L311.79,185.30 L311.44,184.80 L311.09,184.30 L310.75,183.80 L310.43,183.30 L310.13,182.80 L309.84,182.30 L309.54,181.80 L309.23,181.30 L308.91,180.80 L308.60,180.30 L308.29,179.80 L308.01,179.30 L307.74,178.80 L307.51,178.30 L307.33,177.80 L307.18,177.30 L307.10,176.80 L307.07,176.30 L307.07,175.80 L307.08,175.30 L307.10,174.80 L307.13,174.30 L307.16,173.80 L307.20,173.30 L307.25,172.80 L307.30,172.30 L307.36,171.80 L307.42,171.30 L307.49,170.80 L307.56,170.30 L307.66,169.80 L307.79,169.30 L307.95,168.80 L308.14,168.30 L308.36,167.80 L308.59,167.30 L308.84,166.80 L309.09,166.30 L309.35,165.80 L309.61,165.30 L309.86,164.80 L310.11,164.30 L310.34,163.80 L310.60,163.30 L310.87,162.80 L311.16,162.30 L311.44,161.80 L311.72,161.30 L312.00,160.80 L312.26,160.30 L312.51,159.80 L312.73,159.30 L312.92,158.80 L313.08,158.30 L313.21,157.80 L313.32,157.30 L313.43,156.80 L313.52,156.30 L313.60,155.80 L313.68,155.30 L313.76,154.80 L313.83,154.30 L313.90,153.80 L313.96,153.30 L314.03,152.80 L314.09,152.30 L314.16,151.80 L314.23,151.30 L314.30,150.80 L314.38,150.30 L314.46,149.80 L314.54,149.30 L314.61,148.80 L314.69,148.30 L314.77,147.80 L314.84,147.30 L314.92,146.80 L315.00,146.30 L315.07,145.80 L315.15,145.30 L315.23,144.80 L315.31,144.30 L315.40,143.80 L315.48,143.30 L315.57,142.80 L315.65,142.30 L315.73,141.80 L315.81,141.30 L315.89,140.80 L315.98,140.30 L316.06,139.80 L316.15,139.30 L316.24,138.80 L316.34,138.30 L316.45,137.80 L316.56,137.30 L316.69,136.80 L316.83,136.30 L316.99,135.80 L317.16,135.30 L317.33,134.80 L317.50,134.30 L317.67,133.80 L317.81,133.30 L317.93,132.80 L318.02,132.30 L318.09,131.80 L318.14,131.30 L318.17,130.80 L318.19,130.30 L318.21,129.80 L318.21,129.30 L318.22,128.80 L318.23,128.30 L318.23,127.80 L318.24,127.30 L318.24,126.80 L318.24,126.30 L318.24,125.80 L318.25,125.30 L318.25,124.80 L318.25,124.30 L318.25,123.80Z" fill="#C32032" stroke="#000" stroke-width="1.05" stroke-linejoin="round"/>
<path d="M341.55,84.60 L341.55,85.10 L341.55,85.60 L341.55,86.10 L341.55,86.60 L341.55,87.10 L341.55,87.60 L341.56,88.10 L341.56,88.60 L341.56,89.10 L341.56,89.60 L341.56,90.10 L341.57,90.60 L341.57,91.10 L341.57,91.60 L341.58,92.10 L341.58,92.60 L341.58,93.10 L341.59,93.60 L341.59,94.10 L341.60,94.60 L341.61,95.10 L341.62,95.60 L341.63,96.10 L341.65,96.60 L341.68,97.10 L341.72,97.60 L341.79,98.10 L341.87,98.60 L341.99,99.10 L342.13,99.60 L342.30,100.10 L342.50,100.60 L342.71,101.10 L342.95,101.60 L343.20,102.10 L343.47,102.60 L343.74,103.10 L344.03,103.60 L344.32,104.10 L344.61,104.60 L344.92,105.10 L345.22,105.60 L345.53,106.10 L345.83,106.60 L346.14,107.10 L346.44,107.60 L346.75,108.10 L347.06,108.60 L347.37,109.10 L347.68,109.60 L347.98,110.10 L348.27,110.60 L348.56,111.10 L348.83,111.60 L349.10,112.10 L349.36,112.60 L349.62,113.10 L349.88,113.60 L350.13,114.10 L350.38,114.60 L350.61,115.10 L350.84,115.60 L351.06,116.10 L351.26,116.60 L351.45,117.10 L351.61,117.60 L351.77,118.10 L351.93,118.60 L352.09,119.10 L352.24,119.60 L352.39,120.10 L352.52,120.60 L352.64,121.10 L352.75,121.60 L352.83,122.10 L352.90,122.60 L352.93,123.10 L352.94,123.60 L352.92,124.10 L352.89,124.60 L352.84,125.10 L352.79,125.60 L352.72,126.10 L352.64,126.60 L352.55,127.10 L352.45,127.60 L352.35,128.10 L352.25,128.60 L352.14,129.10 L352.01,129.60 L351.86,130.10 L351.68,130.60 L351.47,131.10 L351.25,131.60 L351.02,132.10 L350.78,132.60 L350.55,133.10 L350.32,133.60 L350.10,134.10 L349.90,134.60 L349.72,135.10 L349.55,135.60 L349.39,136.10 L349.23,136.60 L349.08,137.10 L348.93,137.60 L348.78,138.10 L348.64,138.60 L348.50,139.10 L348.36,139.60 L348.23,140.10 L348.10,140.60 L347.98,141.10 L347.85,141.60 L347.73,142.10 L347.61,142.60 L347.49,143.10 L347.37,143.60 L347.26,144.10 L347.15,144.60 L347.05,145.10 L346.95,145.60 L346.86,146.10 L346.77,146.60 L346.70,147.10 L346.63,147.60 L346.56,148.10 L346.50,148.60 L346.44,149.10 L346.38,149.60 L346.33,150.10 L346.28,150.60 L346.23,151.10 L346.19,151.60 L346.15,152.10 L346.11,152.60 L346.08,153.10 L346.05,153.60 L346.03,154.10 L346.00,154.60 L345.98,155.10 L345.96,155.60 L345.94,156.10 L345.92,156.60 L345.90,157.10 L345.88,157.60 L345.87,158.10 L345.86,158.60 L345.86,159.10 L345.85,159.60 L345.85,160.10 L345.85,160.60 L345.85,161.10 L345.85,161.60 L345.85,162.10 L345.85,162.60 L345.85,163.10 L345.85,163.60 L345.85,164.10 L345.85,164.60 L345.85,165.10 L345.85,165.60 L345.85,166.10 L345.84,166.60 L345.83,167.10 L345.82,167.60 L345.80,168.10 L345.77,168.60 L345.75,169.10 L345.72,169.60 L345.69,170.10 L345.65,170.60 L345.62,171.10 L345.58,171.60 L345.55,172.10 L345.51,172.60 L345.46,173.10 L345.41,173.60 L345.35,174.10 L345.28,174.60 L345.21,175.10 L345.14,175.60 L345.07,176.10 L345.00,176.60 L344.92,177.10 L344.85,177.60 L344.78,178.10 L344.71,178.60 L344.64,179.10 L344.57,179.60 L344.50,180.10 L344.43,180.60 L344.36,181.10 L344.29,181.60 L344.22,182.10 L344.14,182.60 L344.07,183.10 L343.99,183.60 L343.91,184.10 L343.83,184.60 L343.75,185.10 L343.66,185.60 L343.57,186.10 L343.48,186.60 L343.38,187.10 L343.29,187.60 L343.20,188.10 L343.11,188.60 L343.02,189.10 L342.93,189.60 L342.85,190.10 L342.77,190.60 L342.69,191.10 L342.61,191.60 L342.54,192.10 L342.46,192.60 L342.38,193.10 L342.31,193.60 L342.25,194.00 L340.75,194.00 L340.69,193.60 L340.62,193.10 L340.54,192.60 L340.46,192.10 L340.39,191.60 L340.31,191.10 L340.23,190.60 L340.15,190.10 L340.07,189.60 L339.98,189.10 L339.89,188.60 L339.80,188.10 L339.71,187.60 L339.62,187.10 L339.52,186.60 L339.43,186.10 L339.34,185.60 L339.25,185.10 L339.17,184.60 L339.09,184.10 L339.01,183.60 L338.93,183.10 L338.86,182.60 L338.78,182.10 L338.71,181.60 L338.64,181.10 L338.57,180.60 L338.50,180.10 L338.43,179.60 L338.36,179.10 L338.29,178.60 L338.22,178.10 L338.15,177.60 L338.08,177.10 L338.00,176.60 L337.93,176.10 L337.86,175.60 L337.79,175.10 L337.72,174.60 L337.65,174.10 L337.59,173.60 L337.54,173.10 L337.49,172.60 L337.45,172.10 L337.42,171.60 L337.38,171.10 L337.35,170.60 L337.31,170.10 L337.28,169.60 L337.25,169.10 L337.23,168.60 L337.20,168.10 L337.18,167.60 L337.17,167.10 L337.16,166.60 L337.15,166.10 L337.15,165.60 L337.15,165.10 L337.15,164.60 L337.15,164.10 L337.15,163.60 L337.15,163.10 L337.15,162.60 L337.15,162.10 L337.15,161.60 L337.15,161.10 L337.15,160.60 L337.15,160.10 L337.15,159.60 L337.14,159.10 L337.14,158.60 L337.13,158.10 L337.12,157.60 L337.10,157.10 L337.08,156.60 L337.06,156.10 L337.04,155.60 L337.02,155.10 L337.00,154.60 L336.97,154.10 L336.95,153.60 L336.92,153.10 L336.89,152.60 L336.85,152.10 L336.81,151.60 L336.77,151.10 L336.72,150.60 L336.67,150.10 L336.62,149.60 L336.56,149.10 L336.50,148.60 L336.44,148.10 L336.37,147.60 L336.30,147.10 L336.23,146.60 L336.14,146.10 L336.05,145.60 L335.95,145.10 L335.85,144.60 L335.74,144.10 L335.63,143.60 L335.51,143.10 L335.39,142.60 L335.27,142.10 L335.15,141.60 L335.02,141.10 L334.90,140.60 L334.77,140.10 L334.64,139.60 L334.50,139.10 L334.36,138.60 L334.22,138.10 L334.07,137.60 L333.92,137.10 L333.77,136.60 L333.61,136.10 L333.45,135.60 L333.28,135.10 L333.10,134.60 L332.90,134.10 L332.68,133.60 L332.45,133.10 L332.22,132.60 L331.98,132.10 L331.75,131.60 L331.53,131.10 L331.32,130.60 L331.14,130.10 L330.99,129.60 L330.86,129.10 L330.75,128.60 L330.65,128.10 L330.55,127.60 L330.45,127.10 L330.36,126.60 L330.28,126.10 L330.21,125.60 L330.16,125.10 L330.11,124.60 L330.08,124.10 L330.06,123.60 L330.07,123.10 L330.10,122.60 L330.17,122.10 L330.25,121.60 L330.36,121.10 L330.48,120.60 L330.61,120.10 L330.76,119.60 L330.91,119.10 L331.07,118.60 L331.23,118.10 L331.39,117.60 L331.55,117.10 L331.74,116.60 L331.94,116.10 L332.16,115.60 L332.39,115.10 L332.62,114.60 L332.87,114.10 L333.12,113.60 L333.38,113.10 L333.64,112.60 L333.90,112.10 L334.17,111.60 L334.44,111.10 L334.73,110.60 L335.02,110.10 L335.32,109.60 L335.63,109.10 L335.94,108.60 L336.25,108.10 L336.56,107.60 L336.86,107.10 L337.17,106.60 L337.47,106.10 L337.78,105.60 L338.08,105.10 L338.39,104.60 L338.68,104.10 L338.97,103.60 L339.26,103.10 L339.53,102.60 L339.80,102.10 L340.05,101.60 L340.29,101.10 L340.50,100.60 L340.70,100.10 L340.87,99.60 L341.01,99.10 L341.13,98.60 L341.21,98.10 L341.28,97.60 L341.32,97.10 L341.35,96.60 L341.37,96.10 L341.38,95.60 L341.39,95.10 L341.40,94.60 L341.41,94.10 L341.41,93.60 L341.42,93.10 L341.42,92.60 L341.42,92.10 L341.43,91.60 L341.43,91.10 L341.43,90.60 L341.44,90.10 L341.44,89.60 L341.44,89.10 L341.44,88.60 L341.44,88.10 L341.45,87.60 L341.45,87.10 L341.45,86.60 L341.45,86.10 L341.45,85.60 L341.45,85.10 L341.45,84.60Z" fill="#0A5284" stroke="#000" stroke-width="1.05" stroke-linejoin="round"/>
<path d="M369.95,92.60 L369.95,93.10 L369.95,93.60 L369.96,94.10 L369.96,94.60 L369.96,95.10 L369.97,95.60 L369.97,96.10 L369.98,96.60 L369.98,97.10 L369.99,97.60 L370.01,98.10 L370.02,98.60 L370.05,99.10 L370.09,99.60 L370.15,100.10 L370.22,100.60 L370.33,101.10 L370.47,101.60 L370.64,102.10 L370.84,102.60 L371.07,103.10 L371.33,103.60 L371.61,104.10 L371.92,104.60 L372.24,105.10 L372.58,105.60 L372.94,106.10 L373.31,106.60 L373.69,107.10 L374.07,107.60 L374.45,108.10 L374.83,108.60 L375.21,109.10 L375.59,109.60 L375.96,110.10 L376.34,110.60 L376.71,111.10 L377.08,111.60 L377.44,112.10 L377.78,112.60 L378.11,113.10 L378.43,113.60 L378.72,114.10 L379.03,114.60 L379.33,115.10 L379.62,115.60 L379.89,116.10 L380.12,116.60 L380.31,117.10 L380.43,117.60 L380.52,118.10 L380.60,118.60 L380.67,119.10 L380.73,119.60 L380.78,120.10 L380.81,120.60 L380.83,121.10 L380.82,121.60 L380.77,122.10 L380.66,122.60 L380.51,123.10 L380.34,123.60 L380.15,124.10 L379.96,124.60 L379.78,125.10 L379.61,125.60 L379.43,126.10 L379.24,126.60 L379.04,127.10 L378.84,127.60 L378.63,128.10 L378.42,128.60 L378.20,129.10 L377.98,129.60 L377.75,130.10 L377.52,130.60 L377.28,131.10 L377.04,131.60 L376.79,132.10 L376.55,132.60 L376.30,133.10 L376.05,133.60 L375.79,134.10 L375.53,134.60 L375.27,135.10 L375.01,135.60 L374.75,136.10 L374.50,136.60 L374.25,137.10 L374.00,137.60 L373.74,138.10 L373.49,138.60 L373.25,139.10 L373.02,139.60 L372.81,140.10 L372.62,140.60 L372.45,141.10 L372.29,141.60 L372.14,142.10 L371.99,142.60 L371.86,143.10 L371.73,143.60 L371.60,144.10 L371.48,144.60 L371.36,145.10 L371.25,145.60 L371.14,146.10 L371.03,146.60 L370.93,147.10 L370.84,147.60 L370.75,148.10 L370.68,148.60 L370.61,149.10 L370.55,149.60 L370.48,150.10 L370.38,150.60 L370.24,151.10 L370.11,151.60 L370.06,152.10 L370.06,152.60 L370.06,153.10 L370.05,153.60 L370.05,154.10 L370.05,154.60 L370.05,155.10 L370.05,155.60 L370.05,156.10 L370.05,156.60 L370.05,157.10 L370.05,157.60 L370.05,158.10 L370.05,158.60 L370.05,159.10 L370.05,159.60 L370.05,160.10 L370.05,160.60 L370.05,161.10 L370.05,161.60 L370.05,162.10 L370.05,162.60 L370.05,163.10 L370.05,163.60 L370.05,164.10 L370.05,164.60 L370.05,165.10 L370.05,165.60 L370.05,166.10 L370.06,166.60 L370.06,167.10 L370.07,167.60 L370.13,168.10 L370.22,168.60 L370.35,169.10 L370.49,169.60 L370.64,170.10 L370.78,170.60 L370.89,171.10 L371.00,171.60 L371.11,172.10 L371.21,172.60 L371.32,173.10 L371.42,173.60 L371.52,174.10 L371.61,174.60 L371.70,175.10 L371.78,175.60 L371.87,176.10 L371.95,176.60 L372.04,177.10 L372.12,177.60 L372.19,178.10 L372.25,178.60 L372.30,179.10 L372.33,179.60 L372.33,180.10 L372.30,180.60 L372.23,181.10 L372.13,181.60 L372.02,182.10 L371.88,182.60 L371.74,183.10 L371.60,183.60 L371.47,184.10 L371.35,184.60 L371.25,185.10 L371.15,185.60 L371.05,186.10 L370.95,186.60 L370.85,187.10 L370.75,187.60 L370.65,188.10 L370.55,188.60 L370.45,189.10 L370.33,189.60 L370.21,190.10 L370.11,190.60 L370.05,191.10 L370.02,191.60 L370.00,192.10 L369.97,192.60 L369.96,193.10 L369.95,193.60 L369.95,194.00 L369.85,194.00 L369.85,193.60 L369.84,193.10 L369.83,192.60 L369.80,192.10 L369.78,191.60 L369.75,191.10 L369.69,190.60 L369.59,190.10 L369.47,189.60 L369.35,189.10 L369.25,188.60 L369.15,188.10 L369.05,187.60 L368.95,187.10 L368.85,186.60 L368.75,186.10 L368.65,185.60 L368.55,185.10 L368.45,184.60 L368.33,184.10 L368.20,183.60 L368.06,183.10 L367.92,182.60 L367.78,182.10 L367.67,181.60 L367.57,181.10 L367.50,180.60 L367.47,180.10 L367.47,179.60 L367.50,179.10 L367.55,178.60 L367.61,178.10 L367.68,177.60 L367.76,177.10 L367.85,176.60 L367.93,176.10 L368.02,175.60 L368.10,175.10 L368.19,174.60 L368.28,174.10 L368.38,173.60 L368.48,173.10 L368.59,172.60 L368.69,172.10 L368.80,171.60 L368.91,171.10 L369.02,170.60 L369.16,170.10 L369.31,169.60 L369.45,169.10 L369.58,168.60 L369.67,168.10 L369.73,167.60 L369.74,167.10 L369.74,166.60 L369.75,166.10 L369.75,165.60 L369.75,165.10 L369.75,164.60 L369.75,164.10 L369.75,163.60 L369.75,163.10 L369.75,162.60 L369.75,162.10 L369.75,161.60 L369.75,161.10 L369.75,160.60 L369.75,160.10 L369.75,159.60 L369.75,159.10 L369.75,158.60 L369.75,158.10 L369.75,157.60 L369.75,157.10 L369.75,156.60 L369.75,156.10 L369.75,155.60 L369.75,155.10 L369.75,154.60 L369.75,154.10 L369.75,153.60 L369.74,153.10 L369.74,152.60 L369.74,152.10 L369.69,151.60 L369.56,151.10 L369.42,150.60 L369.32,150.10 L369.25,149.60 L369.19,149.10 L369.12,148.60 L369.05,148.10 L368.96,147.60 L368.87,147.10 L368.77,146.60 L368.66,146.10 L368.55,145.60 L368.44,145.10 L368.32,144.60 L368.20,144.10 L368.07,143.60 L367.94,143.10 L367.81,142.60 L367.66,142.10 L367.51,141.60 L367.35,141.10 L367.18,140.60 L366.99,140.10 L366.78,139.60 L366.55,139.10 L366.31,138.60 L366.06,138.10 L365.80,137.60 L365.55,137.10 L365.30,136.60 L365.05,136.10 L364.79,135.60 L364.53,135.10 L364.27,134.60 L364.01,134.10 L363.75,133.60 L363.50,133.10 L363.25,132.60 L363.01,132.10 L362.76,131.60 L362.52,131.10 L362.28,130.60 L362.05,130.10 L361.82,129.60 L361.60,129.10 L361.38,128.60 L361.17,128.10 L360.96,127.60 L360.76,127.10 L360.56,126.60 L360.37,126.10 L360.19,125.60 L360.02,125.10 L359.84,124.60 L359.65,124.10 L359.46,123.60 L359.29,123.10 L359.14,122.60 L359.03,122.10 L358.98,121.60 L358.97,121.10 L358.99,120.60 L359.02,120.10 L359.07,119.60 L359.13,119.10 L359.20,118.60 L359.28,118.10 L359.37,117.60 L359.49,117.10 L359.68,116.60 L359.91,116.10 L360.18,115.60 L360.47,115.10 L360.77,114.60 L361.08,114.10 L361.37,113.60 L361.69,113.10 L362.02,112.60 L362.36,112.10 L362.72,111.60 L363.09,111.10 L363.46,110.60 L363.84,110.10 L364.21,109.60 L364.59,109.10 L364.97,108.60 L365.35,108.10 L365.73,107.60 L366.11,107.10 L366.49,106.60 L366.86,106.10 L367.22,105.60 L367.56,105.10 L367.88,104.60 L368.19,104.10 L368.47,103.60 L368.73,103.10 L368.96,102.60 L369.16,102.10 L369.33,101.60 L369.47,101.10 L369.58,100.60 L369.65,100.10 L369.71,99.60 L369.75,99.10 L369.78,98.60 L369.79,98.10 L369.81,97.60 L369.82,97.10 L369.82,96.60 L369.83,96.10 L369.83,95.60 L369.84,95.10 L369.84,94.60 L369.84,94.10 L369.85,93.60 L369.85,93.10 L369.85,92.60Z" fill="#C32032" stroke="#000" stroke-width="1.05" stroke-linejoin="round"/>
<path d="M392.95,85.50 L392.95,86.00 L392.95,86.50 L392.95,87.00 L392.95,87.50 L392.95,88.00 L392.96,88.50 L392.96,89.00 L392.96,89.50 L392.96,90.00 L392.97,90.50 L392.97,91.00 L392.97,91.50 L392.98,92.00 L392.98,92.50 L392.99,93.00 L393.00,93.50 L393.01,94.00 L393.02,94.50 L393.04,95.00 L393.07,95.50 L393.12,96.00 L393.19,96.50 L393.30,97.00 L393.44,97.50 L393.63,98.00 L393.85,98.50 L394.12,99.00 L394.41,99.50 L394.71,100.00 L395.03,100.50 L395.35,101.00 L395.67,101.50 L395.99,102.00 L396.30,102.50 L396.60,103.00 L396.90,103.50 L397.19,104.00 L397.49,104.50 L397.77,105.00 L398.06,105.50 L398.33,106.00 L398.61,106.50 L398.88,107.00 L399.15,107.50 L399.41,108.00 L399.67,108.50 L399.91,109.00 L400.15,109.50 L400.37,110.00 L400.58,110.50 L400.78,111.00 L400.98,111.50 L401.16,112.00 L401.34,112.50 L401.52,113.00 L401.69,113.50 L401.85,114.00 L402.00,114.50 L402.15,115.00 L402.29,115.50 L402.41,116.00 L402.53,116.50 L402.63,117.00 L402.74,117.50 L402.85,118.00 L402.96,118.50 L403.06,119.00 L403.15,119.50 L403.24,120.00 L403.31,120.50 L403.37,121.00 L403.41,121.50 L403.44,122.00 L403.44,122.50 L403.44,123.00 L403.43,123.50 L403.41,124.00 L403.39,124.50 L403.36,125.00 L403.33,125.50 L403.30,126.00 L403.26,126.50 L403.23,127.00 L403.19,127.50 L403.15,128.00 L403.11,128.50 L403.06,129.00 L403.00,129.50 L402.94,130.00 L402.87,130.50 L402.80,131.00 L402.72,131.50 L402.64,132.00 L402.56,132.50 L402.47,133.00 L402.38,133.50 L402.29,134.00 L402.18,134.50 L402.07,135.00 L401.94,135.50 L401.81,136.00 L401.68,136.50 L401.55,137.00 L401.41,137.50 L401.26,138.00 L401.10,138.50 L400.94,139.00 L400.79,139.50 L400.64,140.00 L400.51,140.50 L400.40,141.00 L400.30,141.50 L400.22,142.00 L400.13,142.50 L400.06,143.00 L399.98,143.50 L399.92,144.00 L399.85,144.50 L399.79,145.00 L399.74,145.50 L399.68,146.00 L399.63,146.50 L399.59,147.00 L399.54,147.50 L399.50,148.00 L399.46,148.50 L399.43,149.00 L399.39,149.50 L399.36,150.00 L399.33,150.50 L399.30,151.00 L399.27,151.50 L399.24,152.00 L399.21,152.50 L399.18,153.00 L399.16,153.50 L399.13,154.00 L399.10,154.50 L399.08,155.00 L399.06,155.50 L399.03,156.00 L399.01,156.50 L398.99,157.00 L398.96,157.50 L398.94,158.00 L398.92,158.50 L398.89,159.00 L398.86,159.50 L398.84,160.00 L398.80,160.50 L398.77,161.00 L398.72,161.50 L398.68,162.00 L398.64,162.50 L398.60,163.00 L398.56,163.50 L398.52,164.00 L398.49,164.50 L398.47,165.00 L398.46,165.50 L398.45,166.00 L398.45,166.50 L398.45,167.00 L398.45,167.50 L398.45,168.00 L398.45,168.50 L398.45,169.00 L398.45,169.50 L398.45,170.00 L398.45,170.50 L398.45,171.00 L398.45,171.50 L398.45,172.00 L398.45,172.50 L398.46,173.00 L398.48,173.50 L398.50,174.00 L398.52,174.50 L398.54,175.00 L398.56,175.50 L398.59,176.00 L398.61,176.50 L398.62,177.00 L398.64,177.50 L398.64,178.00 L398.65,178.50 L398.64,179.00 L398.62,179.50 L398.60,180.00 L398.58,180.50 L398.55,181.00 L398.51,181.50 L398.47,182.00 L398.43,182.50 L398.39,183.00 L398.34,183.50 L398.30,184.00 L398.25,184.50 L398.20,185.00 L398.14,185.50 L398.07,186.00 L398.00,186.50 L397.92,187.00 L397.84,187.50 L397.75,188.00 L397.65,188.50 L397.55,189.00 L397.44,189.50 L397.32,190.00 L397.19,190.50 L397.04,191.00 L396.87,191.50 L396.70,192.00 L396.51,192.50 L396.31,193.00 L396.15,193.40 L389.65,193.40 L389.49,193.00 L389.29,192.50 L389.10,192.00 L388.93,191.50 L388.76,191.00 L388.61,190.50 L388.48,190.00 L388.36,189.50 L388.25,189.00 L388.15,188.50 L388.05,188.00 L387.96,187.50 L387.88,187.00 L387.80,186.50 L387.73,186.00 L387.66,185.50 L387.60,185.00 L387.55,184.50 L387.50,184.00 L387.46,183.50 L387.41,183.00 L387.37,182.50 L387.33,182.00 L387.29,181.50 L387.25,181.00 L387.22,180.50 L387.20,180.00 L387.18,179.50 L387.16,179.00 L387.15,178.50 L387.16,178.00 L387.16,177.50 L387.18,177.00 L387.19,176.50 L387.21,176.00 L387.24,175.50 L387.26,175.00 L387.28,174.50 L387.30,174.00 L387.32,173.50 L387.34,173.00 L387.35,172.50 L387.35,172.00 L387.35,171.50 L387.35,171.00 L387.35,170.50 L387.35,170.00 L387.35,169.50 L387.35,169.00 L387.35,168.50 L387.35,168.00 L387.35,167.50 L387.35,167.00 L387.35,166.50 L387.35,166.00 L387.34,165.50 L387.33,165.00 L387.31,164.50 L387.28,164.00 L387.24,163.50 L387.20,163.00 L387.16,162.50 L387.12,162.00 L387.08,161.50 L387.03,161.00 L387.00,160.50 L386.96,160.00 L386.94,159.50 L386.91,159.00 L386.88,158.50 L386.86,158.00 L386.84,157.50 L386.81,157.00 L386.79,156.50 L386.77,156.00 L386.74,155.50 L386.72,155.00 L386.70,154.50 L386.67,154.00 L386.64,153.50 L386.62,153.00 L386.59,152.50 L386.56,152.00 L386.53,151.50 L386.50,151.00 L386.47,150.50 L386.44,150.00 L386.41,149.50 L386.37,149.00 L386.34,148.50 L386.30,148.00 L386.26,147.50 L386.21,147.00 L386.17,146.50 L386.12,146.00 L386.06,145.50 L386.01,145.00 L385.95,144.50 L385.88,144.00 L385.82,143.50 L385.74,143.00 L385.67,142.50 L385.58,142.00 L385.50,141.50 L385.40,141.00 L385.29,140.50 L385.16,140.00 L385.01,139.50 L384.86,139.00 L384.70,138.50 L384.54,138.00 L384.39,137.50 L384.25,137.00 L384.12,136.50 L383.99,136.00 L383.86,135.50 L383.73,135.00 L383.62,134.50 L383.51,134.00 L383.42,133.50 L383.33,133.00 L383.24,132.50 L383.16,132.00 L383.08,131.50 L383.00,131.00 L382.93,130.50 L382.86,130.00 L382.80,129.50 L382.74,129.00 L382.69,128.50 L382.65,128.00 L382.61,127.50 L382.57,127.00 L382.54,126.50 L382.50,126.00 L382.47,125.50 L382.44,125.00 L382.41,124.50 L382.39,124.00 L382.37,123.50 L382.36,123.00 L382.36,122.50 L382.36,122.00 L382.39,121.50 L382.43,121.00 L382.49,120.50 L382.56,120.00 L382.65,119.50 L382.74,119.00 L382.84,118.50 L382.95,118.00 L383.06,117.50 L383.17,117.00 L383.27,116.50 L383.39,116.00 L383.51,115.50 L383.65,115.00 L383.80,114.50 L383.95,114.00 L384.11,113.50 L384.28,113.00 L384.46,112.50 L384.64,112.00 L384.82,111.50 L385.02,111.00 L385.22,110.50 L385.43,110.00 L385.65,109.50 L385.89,109.00 L386.13,108.50 L386.39,108.00 L386.65,107.50 L386.92,107.00 L387.19,106.50 L387.47,106.00 L387.74,105.50 L388.03,105.00 L388.31,104.50 L388.61,104.00 L388.90,103.50 L389.20,103.00 L389.50,102.50 L389.81,102.00 L390.13,101.50 L390.45,101.00 L390.77,100.50 L391.09,100.00 L391.39,99.50 L391.68,99.00 L391.95,98.50 L392.17,98.00 L392.36,97.50 L392.50,97.00 L392.61,96.50 L392.68,96.00 L392.73,95.50 L392.76,95.00 L392.78,94.50 L392.79,94.00 L392.80,93.50 L392.81,93.00 L392.82,92.50 L392.82,92.00 L392.83,91.50 L392.83,91.00 L392.83,90.50 L392.84,90.00 L392.84,89.50 L392.84,89.00 L392.84,88.50 L392.85,88.00 L392.85,87.50 L392.85,87.00 L392.85,86.50 L392.85,86.00 L392.85,85.50Z" fill="#0A5284" stroke="#000" stroke-width="1.05" stroke-linejoin="round"/>
<path d="M421.35,159.30 L421.52,159.80 L421.75,160.30 L422.03,160.80 L422.39,161.30 L422.80,161.80 L423.23,162.30 L423.63,162.80 L424.07,163.30 L424.55,163.80 L425.00,164.30 L425.35,164.80 L425.55,165.30 L425.64,165.80 L425.72,166.30 L425.78,166.80 L425.83,167.30 L425.85,167.80 L425.80,168.30 L425.54,168.80 L425.12,169.30 L424.63,169.80 L424.16,170.30 L423.78,170.80 L423.42,171.30 L423.03,171.80 L422.69,172.30 L422.44,172.80 L422.35,173.30 L422.48,173.80 L422.84,174.30 L423.36,174.80 L423.97,175.30 L424.60,175.80 L425.26,176.30 L426.13,176.80 L427.12,177.30 L428.11,177.80 L429.00,178.30 L429.67,178.80 L430.24,179.30 L430.81,179.80 L431.32,180.30 L431.76,180.80 L432.10,181.30 L432.31,181.80 L432.39,182.30 L432.45,182.80 L432.51,183.30 L432.55,183.80 L432.59,184.30 L432.62,184.80 L432.64,185.30 L432.65,185.80 L432.62,186.30 L432.45,186.80 L432.15,187.30 L431.75,187.80 L431.28,188.30 L430.77,188.80 L430.25,189.30 L429.74,189.80 L429.26,190.30 L428.75,190.80 L428.21,191.30 L427.63,191.80 L427.02,192.30 L426.39,192.80 L425.73,193.30 L425.05,193.80 L417.55,193.80 L416.87,193.30 L416.21,192.80 L415.58,192.30 L414.97,191.80 L414.39,191.30 L413.85,190.80 L413.34,190.30 L412.86,189.80 L412.35,189.30 L411.83,188.80 L411.32,188.30 L410.85,187.80 L410.45,187.30 L410.15,186.80 L409.98,186.30 L409.95,185.80 L409.96,185.30 L409.98,184.80 L410.01,184.30 L410.05,183.80 L410.09,183.30 L410.15,182.80 L410.21,182.30 L410.29,181.80 L410.50,181.30 L410.84,180.80 L411.28,180.30 L411.79,179.80 L412.36,179.30 L412.93,178.80 L413.60,178.30 L414.49,177.80 L415.48,177.30 L416.47,176.80 L417.34,176.30 L418.00,175.80 L418.63,175.30 L419.24,174.80 L419.76,174.30 L420.12,173.80 L420.25,173.30 L420.16,172.80 L419.91,172.30 L419.57,171.80 L419.18,171.30 L418.82,170.80 L418.44,170.30 L417.97,169.80 L417.48,169.30 L417.06,168.80 L416.80,168.30 L416.75,167.80 L416.77,167.30 L416.82,166.80 L416.88,166.30 L416.96,165.80 L417.05,165.30 L417.25,164.80 L417.60,164.30 L418.05,163.80 L418.53,163.30 L418.97,162.80 L419.37,162.30 L419.80,161.80 L420.21,161.30 L420.57,160.80 L420.85,160.30 L421.08,159.80 L421.25,159.30Z" fill="#C32032" stroke="#000" stroke-width="1.05" stroke-linejoin="round"/>
<path d="M444.45,79.30 L444.45,79.80 L444.45,80.30 L444.45,80.80 L444.45,81.30 L444.45,81.80 L444.45,82.30 L444.45,82.80 L444.45,83.30 L444.46,83.80 L444.46,84.30 L444.46,84.80 L444.46,85.30 L444.46,85.80 L444.46,86.30 L444.47,86.80 L444.47,87.30 L444.47,87.80 L444.47,88.30 L444.48,88.80 L444.48,89.30 L444.48,89.80 L444.49,90.30 L444.49,90.80 L444.50,91.30 L444.50,91.80 L444.51,92.30 L444.51,92.80 L444.52,93.30 L444.53,93.80 L444.54,94.30 L444.55,94.80 L444.57,95.30 L444.59,95.80 L444.63,96.30 L444.67,96.80 L444.72,97.30 L444.78,97.80 L444.85,98.30 L444.93,98.80 L445.02,99.30 L445.11,99.80 L445.21,100.30 L445.32,100.80 L445.43,101.30 L445.54,101.80 L445.67,102.30 L445.79,102.80 L445.93,103.30 L446.06,103.80 L446.20,104.30 L446.35,104.80 L446.51,105.30 L446.67,105.80 L446.84,106.30 L447.03,106.80 L447.22,107.30 L447.42,107.80 L447.62,108.30 L447.81,108.80 L448.00,109.30 L448.20,109.80 L448.39,110.30 L448.58,110.80 L448.78,111.30 L448.97,111.80 L449.16,112.30 L449.35,112.80 L449.54,113.30 L449.73,113.80 L449.92,114.30 L450.11,114.80 L450.29,115.30 L450.47,115.80 L450.65,116.30 L450.81,116.80 L450.98,117.30 L451.14,117.80 L451.30,118.30 L451.46,118.80 L451.61,119.30 L451.75,119.80 L451.89,120.30 L452.03,120.80 L452.15,121.30 L452.28,121.80 L452.40,122.30 L452.51,122.80 L452.63,123.30 L452.74,123.80 L452.85,124.30 L452.96,124.80 L453.07,125.30 L453.19,125.80 L453.30,126.30 L453.40,126.80 L453.50,127.30 L453.60,127.80 L453.68,128.30 L453.77,128.80 L453.85,129.30 L453.93,129.80 L454.01,130.30 L454.09,130.80 L454.16,131.30 L454.22,131.80 L454.27,132.30 L454.31,132.80 L454.35,133.30 L454.37,133.80 L454.39,134.30 L454.40,134.80 L454.41,135.30 L454.43,135.80 L454.44,136.30 L454.45,136.80 L454.47,137.30 L454.49,137.80 L454.51,138.30 L454.53,138.80 L454.55,139.30 L454.57,139.80 L454.58,140.30 L454.60,140.80 L454.62,141.30 L454.63,141.80 L454.64,142.30 L454.65,142.80 L454.65,143.30 L454.64,143.80 L454.63,144.30 L454.62,144.80 L454.59,145.30 L454.57,145.80 L454.54,146.30 L454.50,146.80 L454.46,147.30 L454.43,147.80 L454.39,148.30 L454.34,148.80 L454.30,149.30 L454.26,149.80 L454.22,150.30 L454.17,150.80 L454.11,151.30 L454.05,151.80 L453.98,152.30 L453.91,152.80 L453.84,153.30 L453.78,153.80 L453.72,154.30 L453.66,154.80 L453.62,155.30 L453.58,155.80 L453.56,156.30 L453.55,156.80 L453.55,157.30 L453.55,157.80 L453.55,158.30 L453.55,158.80 L453.55,159.30 L453.55,159.80 L453.55,160.30 L453.55,160.80 L453.55,161.30 L453.55,161.80 L453.55,162.30 L453.55,162.80 L453.55,163.30 L453.56,163.80 L453.59,164.30 L453.63,164.80 L453.67,165.30 L453.73,165.80 L453.80,166.30 L453.87,166.80 L453.94,167.30 L454.02,167.80 L454.10,168.30 L454.18,168.80 L454.25,169.30 L454.32,169.80 L454.39,170.30 L454.47,170.80 L454.55,171.30 L454.63,171.80 L454.72,172.30 L454.81,172.80 L454.89,173.30 L454.98,173.80 L455.05,174.30 L455.12,174.80 L455.17,175.30 L455.21,175.80 L455.24,176.30 L455.25,176.80 L455.25,177.30 L455.25,177.80 L455.25,178.30 L455.25,178.80 L455.25,179.30 L455.25,179.80 L455.25,180.30 L455.25,180.80 L455.24,181.30 L455.23,181.80 L455.21,182.30 L455.17,182.80 L455.13,183.30 L455.08,183.80 L455.03,184.30 L454.96,184.80 L454.89,185.30 L454.78,185.80 L454.64,186.30 L454.47,186.80 L454.28,187.30 L454.07,187.80 L453.85,188.30 L453.63,188.80 L453.40,189.30 L453.14,189.80 L452.86,190.30 L452.56,190.80 L452.26,191.30 L451.97,191.80 L451.69,192.30 L451.41,192.80 L451.13,193.30 L450.86,193.80 L450.75,194.00 L438.05,194.00 L437.94,193.80 L437.67,193.30 L437.39,192.80 L437.11,192.30 L436.83,191.80 L436.54,191.30 L436.24,190.80 L435.94,190.30 L435.66,189.80 L435.40,189.30 L435.17,188.80 L434.95,188.30 L434.73,187.80 L434.52,187.30 L434.33,186.80 L434.16,186.30 L434.02,185.80 L433.91,185.30 L433.84,184.80 L433.77,184.30 L433.72,183.80 L433.67,183.30 L433.63,182.80 L433.59,182.30 L433.57,181.80 L433.56,181.30 L433.55,180.80 L433.55,180.30 L433.55,179.80 L433.55,179.30 L433.55,178.80 L433.55,178.30 L433.55,177.80 L433.55,177.30 L433.55,176.80 L433.56,176.30 L433.59,175.80 L433.63,175.30 L433.68,174.80 L433.75,174.30 L433.82,173.80 L433.91,173.30 L433.99,172.80 L434.08,172.30 L434.17,171.80 L434.25,171.30 L434.33,170.80 L434.41,170.30 L434.48,169.80 L434.55,169.30 L434.62,168.80 L434.70,168.30 L434.78,167.80 L434.86,167.30 L434.93,166.80 L435.00,166.30 L435.07,165.80 L435.13,165.30 L435.17,164.80 L435.21,164.30 L435.24,163.80 L435.25,163.30 L435.25,162.80 L435.25,162.30 L435.25,161.80 L435.25,161.30 L435.25,160.80 L435.25,160.30 L435.25,159.80 L435.25,159.30 L435.25,158.80 L435.25,158.30 L435.25,157.80 L435.25,157.30 L435.25,156.80 L435.24,156.30 L435.22,155.80 L435.18,155.30 L435.14,154.80 L435.08,154.30 L435.02,153.80 L434.96,153.30 L434.89,152.80 L434.82,152.30 L434.75,151.80 L434.69,151.30 L434.63,150.80 L434.58,150.30 L434.54,149.80 L434.50,149.30 L434.46,148.80 L434.41,148.30 L434.37,147.80 L434.34,147.30 L434.30,146.80 L434.26,146.30 L434.23,145.80 L434.21,145.30 L434.18,144.80 L434.17,144.30 L434.16,143.80 L434.15,143.30 L434.15,142.80 L434.16,142.30 L434.17,141.80 L434.18,141.30 L434.20,140.80 L434.22,140.30 L434.23,139.80 L434.25,139.30 L434.27,138.80 L434.29,138.30 L434.31,137.80 L434.33,137.30 L434.35,136.80 L434.36,136.30 L434.37,135.80 L434.39,135.30 L434.40,134.80 L434.41,134.30 L434.43,133.80 L434.45,133.30 L434.49,132.80 L434.53,132.30 L434.58,131.80 L434.64,131.30 L434.71,130.80 L434.79,130.30 L434.87,129.80 L434.95,129.30 L435.03,128.80 L435.12,128.30 L435.20,127.80 L435.30,127.30 L435.40,126.80 L435.50,126.30 L435.61,125.80 L435.73,125.30 L435.84,124.80 L435.95,124.30 L436.06,123.80 L436.17,123.30 L436.29,122.80 L436.40,122.30 L436.52,121.80 L436.65,121.30 L436.77,120.80 L436.91,120.30 L437.05,119.80 L437.19,119.30 L437.34,118.80 L437.50,118.30 L437.66,117.80 L437.82,117.30 L437.99,116.80 L438.15,116.30 L438.33,115.80 L438.51,115.30 L438.69,114.80 L438.88,114.30 L439.07,113.80 L439.26,113.30 L439.45,112.80 L439.64,112.30 L439.83,111.80 L440.02,111.30 L440.22,110.80 L440.41,110.30 L440.60,109.80 L440.80,109.30 L440.99,108.80 L441.18,108.30 L441.38,107.80 L441.58,107.30 L441.77,106.80 L441.96,106.30 L442.13,105.80 L442.29,105.30 L442.45,104.80 L442.60,104.30 L442.74,103.80 L442.87,103.30 L443.01,102.80 L443.13,102.30 L443.26,101.80 L443.37,101.30 L443.48,100.80 L443.59,100.30 L443.69,99.80 L443.78,99.30 L443.87,98.80 L443.95,98.30 L444.02,97.80 L444.08,97.30 L444.13,96.80 L444.17,96.30 L444.21,95.80 L444.23,95.30 L444.25,94.80 L444.26,94.30 L444.27,93.80 L444.28,93.30 L444.29,92.80 L444.29,92.30 L444.30,91.80 L444.30,91.30 L444.31,90.80 L444.31,90.30 L444.32,89.80 L444.32,89.30 L444.32,88.80 L444.33,88.30 L444.33,87.80 L444.33,87.30 L444.33,86.80 L444.34,86.30 L444.34,85.80 L444.34,85.30 L444.34,84.80 L444.34,84.30 L444.34,83.80 L444.35,83.30 L444.35,82.80 L444.35,82.30 L444.35,81.80 L444.35,81.30 L444.35,80.80 L444.35,80.30 L444.35,79.80 L444.35,79.30Z" fill="#0A5284" stroke="#000" stroke-width="1.05" stroke-linejoin="round"/>
<path d="M472.85,127.10 L472.85,127.60 L472.86,128.10 L472.86,128.60 L472.86,129.10 L472.87,129.60 L472.87,130.10 L472.88,130.60 L472.89,131.10 L472.90,131.60 L472.92,132.10 L472.94,132.60 L472.98,133.10 L473.03,133.60 L473.11,134.10 L473.22,134.60 L473.36,135.10 L473.54,135.60 L473.74,136.10 L473.97,136.60 L474.22,137.10 L474.49,137.60 L474.76,138.10 L475.03,138.60 L475.31,139.10 L475.59,139.60 L475.86,140.10 L476.13,140.60 L476.39,141.10 L476.65,141.60 L476.89,142.10 L477.12,142.60 L477.34,143.10 L477.55,143.60 L477.75,144.10 L477.94,144.60 L478.12,145.10 L478.30,145.60 L478.45,146.10 L478.60,146.60 L478.74,147.10 L478.88,147.60 L479.01,148.10 L479.13,148.60 L479.25,149.10 L479.37,149.60 L479.48,150.10 L479.59,150.60 L479.70,151.10 L479.81,151.60 L479.92,152.10 L480.03,152.60 L480.14,153.10 L480.25,153.60 L480.37,154.10 L480.49,154.60 L480.61,155.10 L480.73,155.60 L480.85,156.10 L480.97,156.60 L481.09,157.10 L481.21,157.60 L481.32,158.10 L481.43,158.60 L481.54,159.10 L481.64,159.60 L481.74,160.10 L481.83,160.60 L481.92,161.10 L482.00,161.60 L482.08,162.10 L482.16,162.60 L482.24,163.10 L482.31,163.60 L482.38,164.10 L482.45,164.60 L482.52,165.10 L482.58,165.60 L482.64,166.10 L482.70,166.60 L482.76,167.10 L482.82,167.60 L482.87,168.10 L482.93,168.60 L482.98,169.10 L483.04,169.60 L483.10,170.10 L483.15,170.60 L483.21,171.10 L483.26,171.60 L483.30,172.10 L483.34,172.60 L483.38,173.10 L483.41,173.60 L483.43,174.10 L483.44,174.60 L483.44,175.10 L483.43,175.60 L483.40,176.10 L483.36,176.60 L483.31,177.10 L483.24,177.60 L483.17,178.10 L483.08,178.60 L482.99,179.10 L482.89,179.60 L482.79,180.10 L482.68,180.60 L482.57,181.10 L482.46,181.60 L482.34,182.10 L482.22,182.60 L482.09,183.10 L481.93,183.60 L481.76,184.10 L481.59,184.60 L481.40,185.10 L481.20,185.60 L481.00,186.10 L480.79,186.60 L480.58,187.10 L480.37,187.60 L480.16,188.10 L479.95,188.60 L479.73,189.10 L479.51,189.60 L479.28,190.10 L479.04,190.60 L478.80,191.10 L478.55,191.60 L478.30,192.10 L478.04,192.60 L477.78,193.10 L477.51,193.60 L477.35,193.90 L468.25,193.90 L468.09,193.60 L467.82,193.10 L467.56,192.60 L467.30,192.10 L467.05,191.60 L466.80,191.10 L466.56,190.60 L466.32,190.10 L466.09,189.60 L465.87,189.10 L465.65,188.60 L465.44,188.10 L465.23,187.60 L465.02,187.10 L464.81,186.60 L464.60,186.10 L464.40,185.60 L464.20,185.10 L464.01,184.60 L463.84,184.10 L463.67,183.60 L463.51,183.10 L463.38,182.60 L463.26,182.10 L463.14,181.60 L463.03,181.10 L462.92,180.60 L462.81,180.10 L462.71,179.60 L462.61,179.10 L462.52,178.60 L462.43,178.10 L462.36,177.60 L462.29,177.10 L462.24,176.60 L462.20,176.10 L462.17,175.60 L462.16,175.10 L462.16,174.60 L462.17,174.10 L462.19,173.60 L462.22,173.10 L462.26,172.60 L462.30,172.10 L462.34,171.60 L462.39,171.10 L462.45,170.60 L462.50,170.10 L462.56,169.60 L462.62,169.10 L462.67,168.60 L462.73,168.10 L462.78,167.60 L462.84,167.10 L462.90,166.60 L462.96,166.10 L463.02,165.60 L463.08,165.10 L463.15,164.60 L463.22,164.10 L463.29,163.60 L463.36,163.10 L463.44,162.60 L463.52,162.10 L463.60,161.60 L463.68,161.10 L463.77,160.60 L463.86,160.10 L463.96,159.60 L464.06,159.10 L464.17,158.60 L464.28,158.10 L464.39,157.60 L464.51,157.10 L464.63,156.60 L464.75,156.10 L464.87,155.60 L464.99,155.10 L465.11,154.60 L465.23,154.10 L465.35,153.60 L465.46,153.10 L465.57,152.60 L465.68,152.10 L465.79,151.60 L465.90,151.10 L466.01,150.60 L466.12,150.10 L466.23,149.60 L466.35,149.10 L466.47,148.60 L466.59,148.10 L466.72,147.60 L466.86,147.10 L467.00,146.60 L467.15,146.10 L467.30,145.60 L467.48,145.10 L467.66,144.60 L467.85,144.10 L468.05,143.60 L468.26,143.10 L468.48,142.60 L468.71,142.10 L468.95,141.60 L469.21,141.10 L469.47,140.60 L469.74,140.10 L470.01,139.60 L470.29,139.10 L470.57,138.60 L470.84,138.10 L471.11,137.60 L471.38,137.10 L471.63,136.60 L471.86,136.10 L472.06,135.60 L472.24,135.10 L472.38,134.60 L472.49,134.10 L472.57,133.60 L472.62,133.10 L472.66,132.60 L472.68,132.10 L472.70,131.60 L472.71,131.10 L472.72,130.60 L472.73,130.10 L472.73,129.60 L472.74,129.10 L472.74,128.60 L472.74,128.10 L472.75,127.60 L472.75,127.10Z" fill="#C32032" stroke="#000" stroke-width="1.05" stroke-linejoin="round"/>
<path d="M496.25,79.30 L496.25,79.80 L496.25,80.30 L496.25,80.80 L496.25,81.30 L496.26,81.80 L496.26,82.30 L496.26,82.80 L496.26,83.30 L496.26,83.80 L496.27,84.30 L496.27,84.80 L496.28,85.30 L496.28,85.80 L496.28,86.30 L496.29,86.80 L496.30,87.30 L496.30,87.80 L496.31,88.30 L496.32,88.80 L496.34,89.30 L496.37,89.80 L496.40,90.30 L496.45,90.80 L496.53,91.30 L496.62,91.80 L496.74,92.30 L496.88,92.80 L497.04,93.30 L497.22,93.80 L497.41,94.30 L497.61,94.80 L497.81,95.30 L498.01,95.80 L498.22,96.30 L498.42,96.80 L498.62,97.30 L498.82,97.80 L499.03,98.30 L499.23,98.80 L499.43,99.30 L499.64,99.80 L499.84,100.30 L500.05,100.80 L500.25,101.30 L500.45,101.80 L500.65,102.30 L500.84,102.80 L501.04,103.30 L501.24,103.80 L501.43,104.30 L501.63,104.80 L501.82,105.30 L502.01,105.80 L502.19,106.30 L502.38,106.80 L502.56,107.30 L502.73,107.80 L502.91,108.30 L503.08,108.80 L503.26,109.30 L503.43,109.80 L503.59,110.30 L503.76,110.80 L503.92,111.30 L504.08,111.80 L504.23,112.30 L504.38,112.80 L504.53,113.30 L504.67,113.80 L504.82,114.30 L504.97,114.80 L505.11,115.30 L505.24,115.80 L505.38,116.30 L505.50,116.80 L505.62,117.30 L505.73,117.80 L505.83,118.30 L505.92,118.80 L506.01,119.30 L506.09,119.80 L506.17,120.30 L506.25,120.80 L506.32,121.30 L506.39,121.80 L506.45,122.30 L506.51,122.80 L506.57,123.30 L506.62,123.80 L506.67,124.30 L506.71,124.80 L506.75,125.30 L506.80,125.80 L506.83,126.30 L506.87,126.80 L506.91,127.30 L506.94,127.80 L506.97,128.30 L507.00,128.80 L507.02,129.30 L507.04,129.80 L507.07,130.30 L507.09,130.80 L507.11,131.30 L507.13,131.80 L507.14,132.30 L507.14,132.80 L507.14,133.30 L507.12,133.80 L507.08,134.30 L507.02,134.80 L506.96,135.30 L506.88,135.80 L506.80,136.30 L506.72,136.80 L506.63,137.30 L506.54,137.80 L506.46,138.30 L506.38,138.80 L506.31,139.30 L506.23,139.80 L506.16,140.30 L506.08,140.80 L506.01,141.30 L505.93,141.80 L505.85,142.30 L505.77,142.80 L505.70,143.30 L505.62,143.80 L505.54,144.30 L505.47,144.80 L505.40,145.30 L505.33,145.80 L505.26,146.30 L505.20,146.80 L505.13,147.30 L505.06,147.80 L504.98,148.30 L504.91,148.80 L504.84,149.30 L504.77,149.80 L504.70,150.30 L504.64,150.80 L504.58,151.30 L504.54,151.80 L504.50,152.30 L504.47,152.80 L504.46,153.30 L504.46,153.80 L504.46,154.30 L504.47,154.80 L504.48,155.30 L504.50,155.80 L504.52,156.30 L504.55,156.80 L504.58,157.30 L504.61,157.80 L504.64,158.30 L504.68,158.80 L504.72,159.30 L504.75,159.80 L504.80,160.30 L504.86,160.80 L504.93,161.30 L505.01,161.80 L505.09,162.30 L505.18,162.80 L505.28,163.30 L505.37,163.80 L505.47,164.30 L505.56,164.80 L505.65,165.30 L505.73,165.80 L505.81,166.30 L505.89,166.80 L505.97,167.30 L506.06,167.80 L506.14,168.30 L506.22,168.80 L506.29,169.30 L506.37,169.80 L506.44,170.30 L506.51,170.80 L506.57,171.30 L506.62,171.80 L506.67,172.30 L506.71,172.80 L506.76,173.30 L506.80,173.80 L506.85,174.30 L506.89,174.80 L506.92,175.30 L506.96,175.80 L506.99,176.30 L507.01,176.80 L507.03,177.30 L507.04,177.80 L507.04,178.30 L507.03,178.80 L507.00,179.30 L506.94,179.80 L506.88,180.30 L506.80,180.80 L506.70,181.30 L506.60,181.80 L506.48,182.30 L506.37,182.80 L506.24,183.30 L506.12,183.80 L505.99,184.30 L505.87,184.80 L505.73,185.30 L505.57,185.80 L505.40,186.30 L505.21,186.80 L505.02,187.30 L504.83,187.80 L504.63,188.30 L504.43,188.80 L504.23,189.30 L504.03,189.80 L503.83,190.30 L503.63,190.80 L503.43,191.30 L503.22,191.80 L503.01,192.30 L502.79,192.80 L502.57,193.30 L502.35,193.80 L502.35,193.80 L490.05,193.80 L490.05,193.80 L489.83,193.30 L489.61,192.80 L489.39,192.30 L489.18,191.80 L488.97,191.30 L488.77,190.80 L488.57,190.30 L488.37,189.80 L488.17,189.30 L487.97,188.80 L487.77,188.30 L487.57,187.80 L487.38,187.30 L487.19,186.80 L487.00,186.30 L486.83,185.80 L486.67,185.30 L486.53,184.80 L486.41,184.30 L486.28,183.80 L486.16,183.30 L486.03,182.80 L485.92,182.30 L485.80,181.80 L485.70,181.30 L485.60,180.80 L485.52,180.30 L485.46,179.80 L485.40,179.30 L485.37,178.80 L485.36,178.30 L485.36,177.80 L485.37,177.30 L485.39,176.80 L485.41,176.30 L485.44,175.80 L485.48,175.30 L485.51,174.80 L485.55,174.30 L485.60,173.80 L485.64,173.30 L485.69,172.80 L485.73,172.30 L485.78,171.80 L485.83,171.30 L485.89,170.80 L485.96,170.30 L486.03,169.80 L486.11,169.30 L486.18,168.80 L486.26,168.30 L486.34,167.80 L486.43,167.30 L486.51,166.80 L486.59,166.30 L486.67,165.80 L486.75,165.30 L486.84,164.80 L486.93,164.30 L487.03,163.80 L487.12,163.30 L487.22,162.80 L487.31,162.30 L487.39,161.80 L487.47,161.30 L487.54,160.80 L487.60,160.30 L487.65,159.80 L487.68,159.30 L487.72,158.80 L487.76,158.30 L487.79,157.80 L487.82,157.30 L487.85,156.80 L487.88,156.30 L487.90,155.80 L487.92,155.30 L487.93,154.80 L487.94,154.30 L487.94,153.80 L487.94,153.30 L487.93,152.80 L487.90,152.30 L487.86,151.80 L487.82,151.30 L487.76,150.80 L487.70,150.30 L487.63,149.80 L487.56,149.30 L487.49,148.80 L487.42,148.30 L487.34,147.80 L487.27,147.30 L487.20,146.80 L487.14,146.30 L487.07,145.80 L487.00,145.30 L486.93,144.80 L486.86,144.30 L486.78,143.80 L486.70,143.30 L486.63,142.80 L486.55,142.30 L486.47,141.80 L486.39,141.30 L486.32,140.80 L486.24,140.30 L486.17,139.80 L486.09,139.30 L486.02,138.80 L485.94,138.30 L485.86,137.80 L485.77,137.30 L485.68,136.80 L485.60,136.30 L485.52,135.80 L485.44,135.30 L485.38,134.80 L485.32,134.30 L485.28,133.80 L485.26,133.30 L485.26,132.80 L485.26,132.30 L485.27,131.80 L485.29,131.30 L485.31,130.80 L485.33,130.30 L485.36,129.80 L485.38,129.30 L485.40,128.80 L485.43,128.30 L485.46,127.80 L485.49,127.30 L485.53,126.80 L485.57,126.30 L485.60,125.80 L485.65,125.30 L485.69,124.80 L485.73,124.30 L485.78,123.80 L485.83,123.30 L485.89,122.80 L485.95,122.30 L486.01,121.80 L486.08,121.30 L486.15,120.80 L486.23,120.30 L486.31,119.80 L486.39,119.30 L486.48,118.80 L486.57,118.30 L486.67,117.80 L486.78,117.30 L486.90,116.80 L487.02,116.30 L487.16,115.80 L487.29,115.30 L487.43,114.80 L487.58,114.30 L487.73,113.80 L487.87,113.30 L488.02,112.80 L488.17,112.30 L488.32,111.80 L488.48,111.30 L488.64,110.80 L488.81,110.30 L488.97,109.80 L489.14,109.30 L489.32,108.80 L489.49,108.30 L489.67,107.80 L489.84,107.30 L490.02,106.80 L490.21,106.30 L490.39,105.80 L490.58,105.30 L490.77,104.80 L490.97,104.30 L491.16,103.80 L491.36,103.30 L491.56,102.80 L491.75,102.30 L491.95,101.80 L492.15,101.30 L492.35,100.80 L492.56,100.30 L492.76,99.80 L492.97,99.30 L493.17,98.80 L493.37,98.30 L493.58,97.80 L493.78,97.30 L493.98,96.80 L494.18,96.30 L494.39,95.80 L494.59,95.30 L494.79,94.80 L494.99,94.30 L495.18,93.80 L495.36,93.30 L495.52,92.80 L495.66,92.30 L495.78,91.80 L495.87,91.30 L495.95,90.80 L496.00,90.30 L496.03,89.80 L496.06,89.30 L496.08,88.80 L496.09,88.30 L496.10,87.80 L496.10,87.30 L496.11,86.80 L496.12,86.30 L496.12,85.80 L496.12,85.30 L496.13,84.80 L496.13,84.30 L496.14,83.80 L496.14,83.30 L496.14,82.80 L496.14,82.30 L496.14,81.80 L496.15,81.30 L496.15,80.80 L496.15,80.30 L496.15,79.80 L496.15,79.30Z" fill="#0A5284" stroke="#000" stroke-width="1.05" stroke-linejoin="round"/>
<circle cx="61" cy="169.7" r="1.55" fill="#1a1a1a"/>
<circle cx="84.1" cy="145.8" r="1.55" fill="#1a1a1a"/>
<circle cx="112.5" cy="163.2" r="1.55" fill="#1a1a1a"/>
<circle cx="135.4" cy="147.6" r="1.55" fill="#1a1a1a"/>
<circle cx="163.6" cy="178.3" r="1.55" fill="#1a1a1a"/>
<circle cx="186.6" cy="154.6" r="1.55" fill="#1a1a1a"/>
<circle cx="215.2" cy="172.5" r="1.55" fill="#1a1a1a"/>
<circle cx="238.4" cy="141.4" r="1.55" fill="#1a1a1a"/>
<circle cx="266.9" cy="184.0" r="1.55" fill="#1a1a1a"/>
<circle cx="290" cy="142.9" r="1.55" fill="#1a1a1a"/>
<circle cx="318.5" cy="169.5" r="1.55" fill="#1a1a1a"/>
<circle cx="341.8" cy="141.4" r="1.55" fill="#1a1a1a"/>
<circle cx="370.1" cy="129.8" r="1.55" fill="#1a1a1a"/>
<circle cx="393.1" cy="145.9" r="1.55" fill="#1a1a1a"/>
<circle cx="421.3" cy="182" r="1.55" fill="#1a1a1a"/>
<circle cx="444.4" cy="156" r="1.55" fill="#1a1a1a"/>
<circle cx="472.7" cy="170.7" r="1.55" fill="#1a1a1a"/>
<circle cx="496.5" cy="151.5" r="1.55" fill="#1a1a1a"/>
<text x="7.7" y="276.6" font-size="11.5" font-weight="bold" fill="#000">B</text>
<line x1="41.5" y1="279.6" x2="41.5" y2="447.5" stroke="#222" stroke-width="1.2"/>
<line x1="40.9" y1="446.9" x2="371.7" y2="446.9" stroke="#222" stroke-width="1.2"/>
<line x1="38.3" y1="438.50" x2="41.5" y2="438.50" stroke="#333" stroke-width="0.9"/>
<text transform="translate(35.9,438.50) rotate(-90)" font-size="8.8" fill="#3a3a3a" stroke="#3a3a3a" stroke-width="0.1" text-anchor="middle" textLength="6.75" lengthAdjust="spacingAndGlyphs">.1</text>
<line x1="38.3" y1="419.76" x2="41.5" y2="419.76" stroke="#333" stroke-width="0.9"/>
<text transform="translate(35.9,419.76) rotate(-90)" font-size="8.8" fill="#3a3a3a" stroke="#3a3a3a" stroke-width="0.1" text-anchor="middle" textLength="11.25" lengthAdjust="spacingAndGlyphs">.15</text>
<line x1="38.3" y1="401.02" x2="41.5" y2="401.02" stroke="#333" stroke-width="0.9"/>
<text transform="translate(35.9,401.02) rotate(-90)" font-size="8.8" fill="#3a3a3a" stroke="#3a3a3a" stroke-width="0.1" text-anchor="middle" textLength="6.75" lengthAdjust="spacingAndGlyphs">.2</text>
<line x1="38.3" y1="382.29" x2="41.5" y2="382.29" stroke="#333" stroke-width="0.9"/>
<text transform="translate(35.9,382.29) rotate(-90)" font-size="8.8" fill="#3a3a3a" stroke="#3a3a3a" stroke-width="0.1" text-anchor="middle" textLength="11.25" lengthAdjust="spacingAndGlyphs">.25</text>
<line x1="38.3" y1="363.55" x2="41.5" y2="363.55" stroke="#333" stroke-width="0.9"/>
<text transform="translate(35.9,363.55) rotate(-90)" font-size="8.8" fill="#3a3a3a" stroke="#3a3a3a" stroke-width="0.1" text-anchor="middle" textLength="6.75" lengthAdjust="spacingAndGlyphs">.3</text>
<line x1="38.3" y1="344.81" x2="41.5" y2="344.81" stroke="#333" stroke-width="0.9"/>
<text transform="translate(35.9,344.81) rotate(-90)" font-size="8.8" fill="#3a3a3a" stroke="#3a3a3a" stroke-width="0.1" text-anchor="middle" textLength="11.25" lengthAdjust="spacingAndGlyphs">.35</text>
<line x1="38.3" y1="326.08" x2="41.5" y2="326.08" stroke="#333" stroke-width="0.9"/>
<text transform="translate(35.9,326.08) rotate(-90)" font-size="8.8" fill="#3a3a3a" stroke="#3a3a3a" stroke-width="0.1" text-anchor="middle" textLength="6.75" lengthAdjust="spacingAndGlyphs">.4</text>
<line x1="38.3" y1="307.34" x2="41.5" y2="307.34" stroke="#333" stroke-width="0.9"/>
<text transform="translate(35.9,307.34) rotate(-90)" font-size="8.8" fill="#3a3a3a" stroke="#3a3a3a" stroke-width="0.1" text-anchor="middle" textLength="11.25" lengthAdjust="spacingAndGlyphs">.45</text>
<line x1="38.3" y1="288.60" x2="41.5" y2="288.60" stroke="#333" stroke-width="0.9"/>
<text transform="translate(35.9,288.60) rotate(-90)" font-size="8.8" fill="#3a3a3a" stroke="#3a3a3a" stroke-width="0.1" text-anchor="middle" textLength="6.75" lengthAdjust="spacingAndGlyphs">.5</text>
<line x1="63.70" y1="446.9" x2="63.70" y2="450.29999999999995" stroke="#333" stroke-width="0.9"/>
<text transform="translate(65.70,456.40) rotate(-45)" font-size="8.8" fill="#2b2b2b" stroke="#2b2b2b" stroke-width="0.18" text-anchor="end" textLength="49.28" lengthAdjust="spacingAndGlyphs">TP53+/–other</text>
<line x1="99.43" y1="446.9" x2="99.43" y2="450.29999999999995" stroke="#333" stroke-width="0.9"/>
<text transform="translate(101.43,456.40) rotate(-45)" font-size="8.8" fill="#2b2b2b" stroke="#2b2b2b" stroke-width="0.18" text-anchor="end" textLength="36.74" lengthAdjust="spacingAndGlyphs">DTA-other</text>
<line x1="135.16" y1="446.9" x2="135.16" y2="450.29999999999995" stroke="#333" stroke-width="0.9"/>
<text transform="translate(137.16,456.40) rotate(-45)" font-size="8.8" fill="#2b2b2b" stroke="#2b2b2b" stroke-width="0.18" text-anchor="end" textLength="53.68" lengthAdjust="spacingAndGlyphs">SF3B1+/–other</text>
<line x1="170.89" y1="446.9" x2="170.89" y2="450.29999999999995" stroke="#333" stroke-width="0.9"/>
<text transform="translate(172.89,456.40) rotate(-45)" font-size="8.8" fill="#2b2b2b" stroke="#2b2b2b" stroke-width="0.18" text-anchor="end" textLength="54.43" lengthAdjust="spacingAndGlyphs">U2AF1+/–other</text>
<line x1="206.62" y1="446.9" x2="206.62" y2="450.29999999999995" stroke="#333" stroke-width="0.9"/>
<text transform="translate(209.82,456.40) rotate(-45)" font-size="8.8" fill="#2b2b2b" stroke="#2b2b2b" stroke-width="0.18" text-anchor="end" textLength="89.34" lengthAdjust="spacingAndGlyphs">Other multiple mutations</text>
<line x1="242.35" y1="446.9" x2="242.35" y2="450.29999999999995" stroke="#333" stroke-width="0.9"/>
<text transform="translate(245.55,456.40) rotate(-45)" font-size="8.8" fill="#2b2b2b" stroke="#2b2b2b" stroke-width="0.18" text-anchor="end" textLength="77.45" lengthAdjust="spacingAndGlyphs">Other single mutation</text>
<line x1="278.08" y1="446.9" x2="278.08" y2="450.29999999999995" stroke="#333" stroke-width="0.9"/>
<text transform="translate(279.78,456.40) rotate(-45)" font-size="8.8" fill="#2b2b2b" stroke="#2b2b2b" stroke-width="0.18" text-anchor="end" textLength="32.88" lengthAdjust="spacingAndGlyphs">DTA-DTA</text>
<line x1="313.81" y1="446.9" x2="313.81" y2="450.29999999999995" stroke="#333" stroke-width="0.9"/>
<text transform="translate(314.11,454.30) rotate(-45)" font-size="8.8" fill="#2b2b2b" stroke="#2b2b2b" stroke-width="0.18" text-anchor="end" textLength="15.59" lengthAdjust="spacingAndGlyphs">DTA</text>
<line x1="349.54" y1="446.9" x2="349.54" y2="450.29999999999995" stroke="#333" stroke-width="0.9"/>
<text transform="translate(352.74,456.40) rotate(-45)" font-size="8.8" fill="#2b2b2b" stroke="#2b2b2b" stroke-width="0.18" text-anchor="end" textLength="54.03" lengthAdjust="spacingAndGlyphs">SRSF2+/–other</text>
<text transform="translate(24.2,362.9) rotate(-90)" font-size="10" fill="#3a3a3a" text-anchor="middle" textLength="78.6" lengthAdjust="spacingAndGlyphs">Variant allele frequency</text>
<line x1="54.90" y1="412.1" x2="72.50" y2="412.1" stroke="#0A5284" stroke-width="1.8"/>
<line x1="90.63" y1="411.5" x2="108.23" y2="411.5" stroke="#0A5284" stroke-width="1.8"/>
<line x1="126.36" y1="406.0" x2="143.96" y2="406.0" stroke="#0A5284" stroke-width="1.8"/>
<line x1="162.09" y1="376.0" x2="179.69" y2="376.0" stroke="#0A5284" stroke-width="1.8"/>
<line x1="197.82" y1="351.9" x2="215.42" y2="351.9" stroke="#0A5284" stroke-width="1.8"/>
<line x1="233.55" y1="317.8" x2="251.15" y2="317.8" stroke="#0A5284" stroke-width="1.8"/>
<line x1="269.28" y1="317.8" x2="286.88" y2="317.8" stroke="#0A5284" stroke-width="1.8"/>
<line x1="305.01" y1="309.6" x2="322.61" y2="309.6" stroke="#0A5284" stroke-width="1.8"/>
<line x1="340.74" y1="293.1" x2="358.34" y2="293.1" stroke="#0A5284" stroke-width="1.8"/>
</svg></body></html>
